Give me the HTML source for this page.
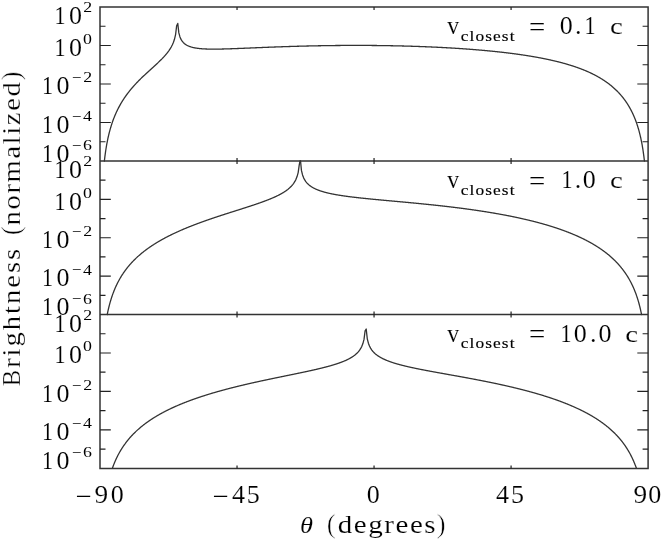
<!DOCTYPE html>
<html><head><meta charset="utf-8"><style>
html,body{margin:0;padding:0;background:#fff;width:661px;height:539px;overflow:hidden}
text{font-family:"Liberation Serif",serif;font-kerning:none}
</style></head><body>
<svg width="661" height="539" viewBox="0 0 661 539" style="position:absolute;left:0;top:0;filter:grayscale(1)">
<rect width="661" height="539" fill="#fff"/>
<path d="M104.38,161.00 L104.41,160.80 L104.68,158.41 L104.95,156.18 L105.23,154.09 L105.50,152.13 L105.77,150.27 L106.05,148.51 L106.32,146.83 L106.59,145.24 L106.87,143.72 L107.14,142.26 L107.42,140.87 L107.69,139.53 L107.96,138.24 L108.24,136.99 L108.51,135.79 L108.78,134.64 L109.06,133.52 L109.33,132.43 L109.61,131.38 L109.88,130.36 L110.15,129.38 L110.43,128.41 L110.70,127.48 L110.97,126.57 L111.25,125.68 L111.52,124.82 L111.80,123.97 L112.07,123.15 L112.34,122.35 L112.62,121.56 L112.89,120.79 L113.16,120.04 L113.44,119.30 L113.71,118.58 L113.98,117.88 L114.26,117.18 L114.53,116.51 L114.81,115.84 L115.08,115.19 L115.35,114.55 L115.63,113.92 L115.90,113.30 L116.17,112.69 L116.45,112.09 L116.72,111.50 L117.00,110.92 L117.27,110.35 L117.54,109.79 L117.82,109.24 L118.09,108.70 L118.36,108.16 L118.64,107.63 L118.91,107.11 L119.19,106.60 L119.46,106.09 L119.73,105.59 L120.01,105.10 L120.28,104.62 L120.55,104.14 L120.83,103.66 L121.10,103.19 L121.37,102.73 L121.65,102.28 L121.92,101.83 L122.20,101.38 L122.47,100.94 L122.74,100.50 L123.02,100.07 L123.29,99.65 L123.56,99.23 L123.84,98.81 L124.11,98.40 L124.39,97.99 L124.66,97.59 L124.93,97.19 L125.21,96.79 L125.48,96.40 L125.75,96.01 L126.03,95.63 L126.30,95.25 L126.57,94.87 L126.85,94.50 L127.12,94.13 L127.40,93.76 L127.67,93.40 L127.94,93.04 L128.22,92.68 L128.49,92.33 L128.76,91.97 L129.04,91.63 L129.31,91.28 L129.59,90.94 L129.86,90.60 L130.13,90.26 L130.41,89.92 L130.68,89.59 L130.95,89.26 L131.23,88.93 L131.50,88.61 L131.78,88.29 L132.05,87.96 L132.32,87.65 L132.60,87.33 L132.87,87.01 L133.14,86.70 L133.42,86.39 L133.69,86.08 L133.96,85.78 L134.24,85.47 L134.51,85.17 L134.79,84.87 L135.06,84.57 L135.33,84.27 L135.61,83.98 L135.88,83.68 L136.15,83.39 L136.43,83.10 L136.70,82.81 L136.98,82.52 L137.25,82.24 L137.52,81.95 L137.80,81.67 L138.07,81.39 L138.34,81.11 L138.62,80.83 L138.89,80.55 L139.17,80.27 L139.44,80.00 L139.71,79.72 L139.99,79.45 L140.26,79.18 L140.53,78.91 L140.81,78.64 L141.08,78.37 L141.35,78.10 L141.63,77.83 L141.90,77.57 L142.18,77.30 L142.45,77.04 L142.72,76.78 L143.00,76.51 L143.27,76.25 L143.54,75.99 L143.82,75.73 L144.09,75.47 L144.37,75.22 L144.64,74.96 L144.91,74.70 L145.19,74.45 L145.46,74.19 L145.73,73.94 L146.01,73.68 L146.28,73.43 L146.56,73.17 L146.83,72.92 L147.10,72.67 L147.38,72.42 L147.65,72.17 L147.92,71.91 L148.20,71.66 L148.47,71.41 L148.74,71.16 L149.02,70.91 L149.29,70.66 L149.57,70.42 L149.84,70.17 L150.11,69.92 L150.39,69.67 L150.66,69.42 L150.93,69.17 L151.21,68.92 L151.48,68.68 L151.76,68.43 L152.03,68.18 L152.30,67.93 L152.58,67.68 L152.85,67.43 L153.12,67.18 L153.40,66.94 L153.67,66.69 L153.94,66.44 L154.22,66.19 L154.49,65.94 L154.77,65.69 L155.04,65.44 L155.31,65.18 L155.59,64.93 L155.86,64.68 L156.13,64.43 L156.41,64.17 L156.68,63.92 L156.96,63.66 L157.23,63.41 L157.50,63.15 L157.78,62.90 L158.05,62.64 L158.32,62.38 L158.60,62.12 L158.87,61.86 L159.15,61.60 L159.42,61.33 L159.69,61.07 L159.97,60.80 L160.24,60.53 L160.51,60.26 L160.79,59.99 L161.06,59.72 L161.33,59.45 L161.61,59.17 L161.88,58.90 L162.16,58.62 L162.43,58.33 L162.70,58.05 L162.98,57.76 L163.25,57.48 L163.52,57.18 L163.80,56.89 L164.07,56.59 L164.35,56.29 L164.62,55.99 L164.89,55.69 L165.17,55.38 L165.44,55.06 L165.71,54.75 L165.99,54.42 L166.26,54.10 L166.54,53.77 L166.81,53.43 L167.08,53.09 L167.36,52.75 L167.63,52.40 L167.90,52.04 L168.18,51.67 L168.45,51.30 L168.72,50.92 L169.00,50.54 L169.27,50.14 L169.55,49.74 L169.82,49.32 L170.09,48.89 L171.19,47.06 L172.28,44.97 L173.38,42.46 L174.47,39.28 L175.57,34.71 L176.66,25.70 L177.76,23.43 L178.85,32.89 L179.95,36.89 L181.04,39.38 L182.14,41.13 L183.23,42.46 L184.33,43.50 L184.60,43.73 L184.87,43.95 L185.15,44.15 L185.42,44.35 L185.69,44.53 L185.97,44.71 L186.24,44.88 L186.52,45.05 L186.79,45.20 L187.06,45.35 L187.34,45.49 L187.61,45.63 L187.88,45.76 L188.16,45.89 L188.43,46.01 L188.70,46.13 L188.98,46.24 L189.25,46.35 L189.53,46.45 L189.80,46.55 L190.07,46.65 L190.35,46.74 L190.62,46.83 L190.89,46.92 L191.17,47.00 L191.44,47.08 L191.72,47.16 L191.99,47.24 L192.26,47.31 L192.54,47.38 L192.81,47.45 L193.08,47.51 L193.36,47.58 L193.63,47.64 L193.91,47.69 L194.18,47.75 L194.45,47.81 L194.73,47.86 L195.00,47.91 L195.27,47.96 L195.55,48.01 L195.82,48.05 L196.09,48.10 L196.37,48.14 L196.64,48.18 L196.92,48.22 L197.19,48.26 L197.46,48.30 L197.74,48.34 L198.01,48.37 L198.28,48.41 L198.56,48.44 L198.83,48.47 L199.11,48.50 L199.38,48.53 L199.65,48.56 L199.93,48.59 L200.20,48.61 L200.47,48.64 L200.75,48.66 L201.02,48.69 L201.30,48.71 L201.57,48.73 L201.84,48.76 L202.12,48.78 L202.39,48.80 L202.66,48.81 L202.94,48.83 L203.21,48.85 L203.48,48.87 L203.76,48.88 L204.03,48.90 L204.31,48.91 L204.58,48.93 L204.85,48.94 L205.13,48.95 L205.40,48.97 L205.67,48.98 L205.95,48.99 L206.22,49.00 L206.50,49.01 L206.77,49.02 L207.04,49.03 L207.32,49.04 L207.59,49.05 L207.86,49.05 L208.14,49.06 L208.41,49.07 L208.68,49.08 L208.96,49.08 L209.23,49.09 L209.51,49.09 L209.78,49.10 L210.05,49.10 L210.33,49.11 L210.60,49.11 L210.87,49.11 L211.15,49.12 L211.42,49.12 L211.70,49.12 L211.97,49.12 L212.24,49.12 L212.52,49.13 L212.79,49.13 L213.06,49.13 L213.34,49.13 L213.61,49.13 L213.89,49.13 L214.16,49.13 L214.43,49.13 L214.71,49.13 L214.98,49.13 L215.25,49.12 L215.53,49.12 L215.80,49.12 L216.07,49.12 L216.35,49.12 L216.62,49.11 L216.90,49.11 L217.17,49.11 L217.44,49.10 L217.72,49.10 L217.99,49.10 L218.26,49.09 L218.54,49.09 L218.81,49.09 L219.09,49.08 L219.36,49.08 L219.63,49.07 L219.91,49.07 L220.18,49.06 L220.45,49.06 L220.73,49.05 L221.00,49.05 L221.28,49.04 L221.55,49.03 L221.82,49.03 L222.10,49.02 L222.37,49.02 L222.64,49.01 L222.92,49.00 L223.19,49.00 L223.46,48.99 L223.74,48.98 L224.01,48.97 L224.29,48.97 L224.56,48.96 L224.83,48.95 L225.11,48.95 L225.38,48.94 L225.65,48.93 L225.93,48.92 L226.20,48.91 L226.48,48.91 L226.75,48.90 L227.02,48.89 L227.30,48.88 L227.57,48.87 L227.84,48.86 L228.12,48.86 L228.39,48.85 L228.67,48.84 L228.94,48.83 L229.21,48.82 L229.49,48.81 L229.76,48.80 L230.03,48.79 L230.31,48.78 L230.58,48.77 L230.85,48.76 L231.13,48.75 L231.40,48.75 L231.68,48.74 L231.95,48.73 L232.22,48.72 L232.50,48.71 L232.77,48.70 L233.04,48.69 L233.32,48.68 L233.59,48.67 L233.87,48.66 L234.14,48.65 L234.41,48.64 L234.69,48.63 L234.96,48.62 L235.23,48.60 L235.51,48.59 L235.78,48.58 L236.05,48.57 L236.33,48.56 L236.60,48.55 L236.88,48.54 L237.15,48.53 L237.42,48.52 L237.70,48.51 L237.97,48.50 L238.24,48.49 L238.52,48.48 L238.79,48.47 L239.07,48.46 L239.34,48.44 L239.61,48.43 L239.89,48.42 L240.16,48.41 L240.43,48.40 L240.71,48.39 L240.98,48.38 L241.26,48.37 L241.53,48.36 L241.80,48.35 L242.08,48.33 L242.35,48.32 L242.62,48.31 L242.90,48.30 L243.17,48.29 L243.44,48.28 L243.72,48.27 L243.99,48.26 L244.27,48.24 L244.54,48.23 L244.81,48.22 L245.09,48.21 L245.36,48.20 L245.63,48.19 L245.91,48.18 L246.18,48.16 L246.46,48.15 L246.73,48.14 L247.00,48.13 L247.28,48.12 L247.55,48.11 L247.82,48.10 L248.10,48.08 L248.37,48.07 L248.65,48.06 L248.92,48.05 L249.19,48.04 L249.47,48.03 L249.74,48.02 L250.01,48.00 L250.29,47.99 L250.56,47.98 L250.83,47.97 L251.11,47.96 L251.38,47.95 L251.66,47.94 L251.93,47.92 L252.20,47.91 L252.48,47.90 L252.75,47.89 L253.02,47.88 L253.30,47.87 L253.57,47.85 L253.85,47.84 L254.12,47.83 L254.39,47.82 L254.67,47.81 L254.94,47.80 L255.21,47.79 L255.49,47.77 L255.76,47.76 L256.04,47.75 L256.31,47.74 L256.58,47.73 L256.86,47.72 L257.13,47.71 L257.40,47.70 L257.68,47.68 L257.95,47.67 L258.22,47.66 L258.50,47.65 L258.77,47.64 L259.05,47.63 L259.32,47.62 L259.59,47.60 L259.87,47.59 L260.14,47.58 L260.41,47.57 L260.69,47.56 L260.96,47.55 L261.24,47.54 L261.51,47.53 L261.78,47.52 L262.06,47.50 L262.33,47.49 L262.60,47.48 L262.88,47.47 L263.15,47.46 L263.42,47.45 L263.70,47.44 L263.97,47.43 L264.25,47.42 L264.52,47.40 L264.79,47.39 L265.07,47.38 L265.34,47.37 L265.61,47.36 L265.89,47.35 L266.16,47.34 L266.44,47.33 L266.71,47.32 L266.98,47.31 L267.26,47.30 L267.53,47.28 L267.80,47.27 L268.08,47.26 L268.35,47.25 L268.63,47.24 L268.90,47.23 L269.17,47.22 L269.45,47.21 L269.72,47.20 L269.99,47.19 L270.27,47.18 L270.54,47.17 L270.81,47.16 L271.09,47.15 L271.36,47.14 L271.64,47.13 L271.91,47.12 L272.18,47.11 L272.46,47.09 L272.73,47.08 L273.00,47.07 L273.28,47.06 L273.55,47.05 L273.83,47.04 L274.10,47.03 L274.37,47.02 L274.65,47.01 L274.92,47.00 L275.19,46.99 L275.47,46.98 L275.74,46.97 L276.02,46.96 L276.29,46.95 L276.56,46.94 L276.84,46.93 L277.11,46.92 L277.38,46.91 L277.66,46.90 L277.93,46.89 L278.20,46.88 L278.48,46.87 L278.75,46.86 L279.03,46.85 L279.30,46.84 L279.57,46.83 L279.85,46.82 L280.12,46.81 L280.39,46.80 L280.67,46.80 L280.94,46.79 L281.22,46.78 L281.49,46.77 L281.76,46.76 L282.04,46.75 L282.31,46.74 L282.58,46.73 L282.86,46.72 L283.13,46.71 L283.41,46.70 L283.68,46.69 L283.95,46.68 L284.23,46.67 L284.50,46.66 L284.77,46.65 L285.05,46.65 L285.32,46.64 L285.59,46.63 L285.87,46.62 L286.14,46.61 L286.42,46.60 L286.69,46.59 L286.96,46.58 L287.24,46.57 L287.51,46.56 L287.78,46.56 L288.06,46.55 L288.33,46.54 L288.61,46.53 L288.88,46.52 L289.15,46.51 L289.43,46.50 L289.70,46.49 L289.97,46.49 L290.25,46.48 L290.52,46.47 L290.79,46.46 L291.07,46.45 L291.34,46.44 L291.62,46.43 L291.89,46.43 L292.16,46.42 L292.44,46.41 L292.71,46.40 L292.98,46.39 L293.26,46.38 L293.53,46.38 L293.81,46.37 L294.08,46.36 L294.35,46.35 L294.63,46.34 L294.90,46.34 L295.17,46.33 L295.45,46.32 L295.72,46.31 L296.00,46.30 L296.27,46.30 L296.54,46.29 L296.82,46.28 L297.09,46.27 L297.36,46.27 L297.64,46.26 L297.91,46.25 L298.18,46.24 L298.46,46.23 L298.73,46.23 L299.01,46.22 L299.28,46.21 L299.55,46.20 L299.83,46.20 L300.10,46.19 L300.37,46.18 L300.65,46.17 L300.92,46.17 L301.20,46.16 L301.47,46.15 L301.74,46.15 L302.02,46.14 L302.29,46.13 L302.56,46.12 L302.84,46.12 L303.11,46.11 L303.39,46.10 L303.66,46.10 L303.93,46.09 L304.21,46.08 L304.48,46.08 L304.75,46.07 L305.03,46.06 L305.30,46.05 L305.57,46.05 L305.85,46.04 L306.12,46.03 L306.40,46.03 L306.67,46.02 L306.94,46.01 L307.22,46.01 L307.49,46.00 L307.76,46.00 L308.04,45.99 L308.31,45.98 L308.59,45.98 L308.86,45.97 L309.13,45.96 L309.41,45.96 L309.68,45.95 L309.95,45.94 L310.23,45.94 L310.50,45.93 L310.78,45.93 L311.05,45.92 L311.32,45.91 L311.60,45.91 L311.87,45.90 L312.14,45.90 L312.42,45.89 L312.69,45.88 L312.96,45.88 L313.24,45.87 L313.51,45.87 L313.79,45.86 L314.06,45.86 L314.33,45.85 L314.61,45.84 L314.88,45.84 L315.15,45.83 L315.43,45.83 L315.70,45.82 L315.98,45.82 L316.25,45.81 L316.52,45.81 L316.80,45.80 L317.07,45.80 L317.34,45.79 L317.62,45.79 L317.89,45.78 L318.16,45.77 L318.44,45.77 L318.71,45.76 L318.99,45.76 L319.26,45.75 L319.53,45.75 L319.81,45.74 L320.08,45.74 L320.35,45.73 L320.63,45.73 L320.90,45.73 L321.18,45.72 L321.45,45.72 L321.72,45.71 L322.00,45.71 L322.27,45.70 L322.54,45.70 L322.82,45.69 L323.09,45.69 L323.37,45.68 L323.64,45.68 L323.91,45.67 L324.19,45.67 L324.46,45.67 L324.73,45.66 L325.01,45.66 L325.28,45.65 L325.55,45.65 L325.83,45.65 L326.10,45.64 L326.38,45.64 L326.65,45.63 L326.92,45.63 L327.20,45.62 L327.47,45.62 L327.74,45.62 L328.02,45.61 L328.29,45.61 L328.57,45.61 L328.84,45.60 L329.11,45.60 L329.39,45.59 L329.66,45.59 L329.93,45.59 L330.21,45.58 L330.48,45.58 L330.76,45.58 L331.03,45.57 L331.30,45.57 L331.58,45.57 L331.85,45.56 L332.12,45.56 L332.40,45.56 L332.67,45.55 L332.94,45.55 L333.22,45.55 L333.49,45.54 L333.77,45.54 L334.04,45.54 L334.31,45.53 L334.59,45.53 L334.86,45.53 L335.13,45.53 L335.41,45.52 L335.68,45.52 L335.96,45.52 L336.23,45.51 L336.50,45.51 L336.78,45.51 L337.05,45.51 L337.32,45.50 L337.60,45.50 L337.87,45.50 L338.15,45.50 L338.42,45.49 L338.69,45.49 L338.97,45.49 L339.24,45.49 L339.51,45.48 L339.79,45.48 L340.06,45.48 L340.33,45.48 L340.61,45.47 L340.88,45.47 L341.16,45.47 L341.43,45.47 L341.70,45.47 L341.98,45.46 L342.25,45.46 L342.52,45.46 L342.80,45.46 L343.07,45.46 L343.35,45.46 L343.62,45.45 L343.89,45.45 L344.17,45.45 L344.44,45.45 L344.71,45.45 L344.99,45.45 L345.26,45.44 L345.53,45.44 L345.81,45.44 L346.08,45.44 L346.36,45.44 L346.63,45.44 L346.90,45.44 L347.18,45.43 L347.45,45.43 L347.72,45.43 L348.00,45.43 L348.27,45.43 L348.55,45.43 L348.82,45.43 L349.09,45.43 L349.37,45.43 L349.64,45.42 L349.91,45.42 L350.19,45.42 L350.46,45.42 L350.74,45.42 L351.01,45.42 L351.28,45.42 L351.56,45.42 L351.83,45.42 L352.10,45.42 L352.38,45.42 L352.65,45.42 L352.92,45.42 L353.20,45.42 L353.47,45.42 L353.75,45.41 L354.02,45.41 L354.29,45.41 L354.57,45.41 L354.84,45.41 L355.11,45.41 L355.39,45.41 L355.66,45.41 L355.94,45.41 L356.21,45.41 L356.48,45.41 L356.76,45.41 L357.03,45.41 L357.30,45.41 L357.58,45.41 L357.85,45.41 L358.13,45.41 L358.40,45.41 L358.67,45.41 L358.95,45.42 L359.22,45.42 L359.49,45.42 L359.77,45.42 L360.04,45.42 L360.31,45.42 L360.59,45.42 L360.86,45.42 L361.14,45.42 L361.41,45.42 L361.68,45.42 L361.96,45.42 L362.23,45.42 L362.50,45.42 L362.78,45.42 L363.05,45.43 L363.33,45.43 L363.60,45.43 L363.87,45.43 L364.15,45.43 L364.42,45.43 L364.69,45.43 L364.97,45.43 L365.24,45.43 L365.52,45.44 L365.79,45.44 L366.06,45.44 L366.34,45.44 L366.61,45.44 L366.88,45.44 L367.16,45.44 L367.43,45.45 L367.70,45.45 L367.98,45.45 L368.25,45.45 L368.53,45.45 L368.80,45.45 L369.07,45.46 L369.35,45.46 L369.62,45.46 L369.89,45.46 L370.17,45.46 L370.44,45.47 L370.72,45.47 L370.99,45.47 L371.26,45.47 L371.54,45.47 L371.81,45.48 L372.08,45.48 L372.36,45.48 L372.63,45.48 L372.90,45.49 L373.18,45.49 L373.45,45.49 L373.73,45.49 L374.00,45.50 L374.27,45.50 L374.55,45.50 L374.82,45.50 L375.09,45.51 L375.37,45.51 L375.64,45.51 L375.92,45.52 L376.19,45.52 L376.46,45.52 L376.74,45.52 L377.01,45.53 L377.28,45.53 L377.56,45.53 L377.83,45.54 L378.11,45.54 L378.38,45.54 L378.65,45.55 L378.93,45.55 L379.20,45.55 L379.47,45.56 L379.75,45.56 L380.02,45.56 L380.29,45.57 L380.57,45.57 L380.84,45.57 L381.12,45.58 L381.39,45.58 L381.66,45.58 L381.94,45.59 L382.21,45.59 L382.48,45.60 L382.76,45.60 L383.03,45.60 L383.31,45.61 L383.58,45.61 L383.85,45.62 L384.13,45.62 L384.40,45.62 L384.67,45.63 L384.95,45.63 L385.22,45.64 L385.50,45.64 L385.77,45.64 L386.04,45.65 L386.32,45.65 L386.59,45.66 L386.86,45.66 L387.14,45.67 L387.41,45.67 L387.68,45.68 L387.96,45.68 L388.23,45.69 L388.51,45.69 L388.78,45.69 L389.05,45.70 L389.33,45.70 L389.60,45.71 L389.87,45.71 L390.15,45.72 L390.42,45.72 L390.70,45.73 L390.97,45.73 L391.24,45.74 L391.52,45.74 L391.79,45.75 L392.06,45.76 L392.34,45.76 L392.61,45.77 L392.89,45.77 L393.16,45.78 L393.43,45.78 L393.71,45.79 L393.98,45.79 L394.25,45.80 L394.53,45.80 L394.80,45.81 L395.07,45.82 L395.35,45.82 L395.62,45.83 L395.90,45.83 L396.17,45.84 L396.44,45.85 L396.72,45.85 L396.99,45.86 L397.26,45.86 L397.54,45.87 L397.81,45.88 L398.09,45.88 L398.36,45.89 L398.63,45.90 L398.91,45.90 L399.18,45.91 L399.45,45.91 L399.73,45.92 L400.00,45.93 L400.27,45.93 L400.55,45.94 L400.82,45.95 L401.10,45.95 L401.37,45.96 L401.64,45.97 L401.92,45.97 L402.19,45.98 L402.46,45.99 L402.74,46.00 L403.01,46.00 L403.29,46.01 L403.56,46.02 L403.83,46.02 L404.11,46.03 L404.38,46.04 L404.65,46.05 L404.93,46.05 L405.20,46.06 L405.48,46.07 L405.75,46.08 L406.02,46.08 L406.30,46.09 L406.57,46.10 L406.84,46.11 L407.12,46.11 L407.39,46.12 L407.66,46.13 L407.94,46.14 L408.21,46.15 L408.49,46.15 L408.76,46.16 L409.03,46.17 L409.31,46.18 L409.58,46.19 L409.85,46.19 L410.13,46.20 L410.40,46.21 L410.68,46.22 L410.95,46.23 L411.22,46.24 L411.50,46.24 L411.77,46.25 L412.04,46.26 L412.32,46.27 L412.59,46.28 L412.87,46.29 L413.14,46.30 L413.41,46.30 L413.69,46.31 L413.96,46.32 L414.23,46.33 L414.51,46.34 L414.78,46.35 L415.05,46.36 L415.33,46.37 L415.60,46.38 L415.88,46.39 L416.15,46.39 L416.42,46.40 L416.70,46.41 L416.97,46.42 L417.24,46.43 L417.52,46.44 L417.79,46.45 L418.07,46.46 L418.34,46.47 L418.61,46.48 L418.89,46.49 L419.16,46.50 L419.43,46.51 L419.71,46.52 L419.98,46.53 L420.26,46.54 L420.53,46.55 L420.80,46.56 L421.08,46.57 L421.35,46.58 L421.62,46.59 L421.90,46.60 L422.17,46.61 L422.44,46.62 L422.72,46.63 L422.99,46.64 L423.27,46.65 L423.54,46.66 L423.81,46.67 L424.09,46.69 L424.36,46.70 L424.63,46.71 L424.91,46.72 L425.18,46.73 L425.46,46.74 L425.73,46.75 L426.00,46.76 L426.28,46.77 L426.55,46.78 L426.82,46.79 L427.10,46.81 L427.37,46.82 L427.64,46.83 L427.92,46.84 L428.19,46.85 L428.47,46.86 L428.74,46.87 L429.01,46.89 L429.29,46.90 L429.56,46.91 L429.83,46.92 L430.11,46.93 L430.38,46.95 L430.66,46.96 L430.93,46.97 L431.20,46.98 L431.48,46.99 L431.75,47.01 L432.02,47.02 L432.30,47.03 L432.57,47.04 L432.85,47.05 L433.12,47.07 L433.39,47.08 L433.67,47.09 L433.94,47.10 L434.21,47.12 L434.49,47.13 L434.76,47.14 L435.03,47.16 L435.31,47.17 L435.58,47.18 L435.86,47.19 L436.13,47.21 L436.40,47.22 L436.68,47.23 L436.95,47.25 L437.22,47.26 L437.50,47.27 L437.77,47.29 L438.05,47.30 L438.32,47.31 L438.59,47.33 L438.87,47.34 L439.14,47.35 L439.41,47.37 L439.69,47.38 L439.96,47.39 L440.24,47.41 L440.51,47.42 L440.78,47.44 L441.06,47.45 L441.33,47.46 L441.60,47.48 L441.88,47.49 L442.15,47.51 L442.42,47.52 L442.70,47.54 L442.97,47.55 L443.25,47.56 L443.52,47.58 L443.79,47.59 L444.07,47.61 L444.34,47.62 L444.61,47.64 L444.89,47.65 L445.16,47.67 L445.44,47.68 L445.71,47.70 L445.98,47.71 L446.26,47.73 L446.53,47.74 L446.80,47.76 L447.08,47.77 L447.35,47.79 L447.63,47.80 L447.90,47.82 L448.17,47.83 L448.45,47.85 L448.72,47.86 L448.99,47.88 L449.27,47.90 L449.54,47.91 L449.81,47.93 L450.09,47.94 L450.36,47.96 L450.64,47.98 L450.91,47.99 L451.18,48.01 L451.46,48.02 L451.73,48.04 L452.00,48.06 L452.28,48.07 L452.55,48.09 L452.83,48.11 L453.10,48.12 L453.37,48.14 L453.65,48.16 L453.92,48.17 L454.19,48.19 L454.47,48.21 L454.74,48.22 L455.01,48.24 L455.29,48.26 L455.56,48.28 L455.84,48.29 L456.11,48.31 L456.38,48.33 L456.66,48.34 L456.93,48.36 L457.20,48.38 L457.48,48.40 L457.75,48.41 L458.03,48.43 L458.30,48.45 L458.57,48.47 L458.85,48.49 L459.12,48.50 L459.39,48.52 L459.67,48.54 L459.94,48.56 L460.22,48.58 L460.49,48.59 L460.76,48.61 L461.04,48.63 L461.31,48.65 L461.58,48.67 L461.86,48.69 L462.13,48.71 L462.40,48.72 L462.68,48.74 L462.95,48.76 L463.23,48.78 L463.50,48.80 L463.77,48.82 L464.05,48.84 L464.32,48.86 L464.59,48.88 L464.87,48.90 L465.14,48.92 L465.42,48.94 L465.69,48.96 L465.96,48.98 L466.24,48.99 L466.51,49.01 L466.78,49.03 L467.06,49.05 L467.33,49.07 L467.61,49.09 L467.88,49.11 L468.15,49.14 L468.43,49.16 L468.70,49.18 L468.97,49.20 L469.25,49.22 L469.52,49.24 L469.79,49.26 L470.07,49.28 L470.34,49.30 L470.62,49.32 L470.89,49.34 L471.16,49.36 L471.44,49.38 L471.71,49.40 L471.98,49.43 L472.26,49.45 L472.53,49.47 L472.81,49.49 L473.08,49.51 L473.35,49.53 L473.63,49.56 L473.90,49.58 L474.17,49.60 L474.45,49.62 L474.72,49.64 L475.00,49.66 L475.27,49.69 L475.54,49.71 L475.82,49.73 L476.09,49.75 L476.36,49.78 L476.64,49.80 L476.91,49.82 L477.18,49.84 L477.46,49.87 L477.73,49.89 L478.01,49.91 L478.28,49.94 L478.55,49.96 L478.83,49.98 L479.10,50.01 L479.37,50.03 L479.65,50.05 L479.92,50.08 L480.20,50.10 L480.47,50.12 L480.74,50.15 L481.02,50.17 L481.29,50.19 L481.56,50.22 L481.84,50.24 L482.11,50.27 L482.38,50.29 L482.66,50.32 L482.93,50.34 L483.21,50.36 L483.48,50.39 L483.75,50.41 L484.03,50.44 L484.30,50.46 L484.57,50.49 L484.85,50.51 L485.12,50.54 L485.40,50.56 L485.67,50.59 L485.94,50.61 L486.22,50.64 L486.49,50.66 L486.76,50.69 L487.04,50.72 L487.31,50.74 L487.59,50.77 L487.86,50.79 L488.13,50.82 L488.41,50.85 L488.68,50.87 L488.95,50.90 L489.23,50.92 L489.50,50.95 L489.77,50.98 L490.05,51.00 L490.32,51.03 L490.60,51.06 L490.87,51.08 L491.14,51.11 L491.42,51.14 L491.69,51.17 L491.96,51.19 L492.24,51.22 L492.51,51.25 L492.79,51.28 L493.06,51.30 L493.33,51.33 L493.61,51.36 L493.88,51.39 L494.15,51.42 L494.43,51.44 L494.70,51.47 L494.98,51.50 L495.25,51.53 L495.52,51.56 L495.80,51.59 L496.07,51.61 L496.34,51.64 L496.62,51.67 L496.89,51.70 L497.16,51.73 L497.44,51.76 L497.71,51.79 L497.99,51.82 L498.26,51.85 L498.53,51.88 L498.81,51.91 L499.08,51.94 L499.35,51.97 L499.63,52.00 L499.90,52.03 L500.18,52.06 L500.45,52.09 L500.72,52.12 L501.00,52.15 L501.27,52.18 L501.54,52.21 L501.82,52.24 L502.09,52.27 L502.37,52.30 L502.64,52.34 L502.91,52.37 L503.19,52.40 L503.46,52.43 L503.73,52.46 L504.01,52.49 L504.28,52.53 L504.55,52.56 L504.83,52.59 L505.10,52.62 L505.38,52.65 L505.65,52.69 L505.92,52.72 L506.20,52.75 L506.47,52.79 L506.74,52.82 L507.02,52.85 L507.29,52.88 L507.57,52.92 L507.84,52.95 L508.11,52.98 L508.39,53.02 L508.66,53.05 L508.93,53.09 L509.21,53.12 L509.48,53.15 L509.75,53.19 L510.03,53.22 L510.30,53.26 L510.58,53.29 L510.85,53.33 L511.12,53.36 L511.40,53.40 L511.67,53.43 L511.94,53.47 L512.22,53.50 L512.49,53.54 L512.77,53.57 L513.04,53.61 L513.31,53.64 L513.59,53.68 L513.86,53.72 L514.13,53.75 L514.41,53.79 L514.68,53.83 L514.96,53.86 L515.23,53.90 L515.50,53.94 L515.78,53.97 L516.05,54.01 L516.32,54.05 L516.60,54.08 L516.87,54.12 L517.14,54.16 L517.42,54.20 L517.69,54.24 L517.97,54.27 L518.24,54.31 L518.51,54.35 L518.79,54.39 L519.06,54.43 L519.33,54.47 L519.61,54.50 L519.88,54.54 L520.16,54.58 L520.43,54.62 L520.70,54.66 L520.98,54.70 L521.25,54.74 L521.52,54.78 L521.80,54.82 L522.07,54.86 L522.35,54.90 L522.62,54.94 L522.89,54.98 L523.17,55.02 L523.44,55.06 L523.71,55.11 L523.99,55.15 L524.26,55.19 L524.53,55.23 L524.81,55.27 L525.08,55.31 L525.36,55.36 L525.63,55.40 L525.90,55.44 L526.18,55.48 L526.45,55.53 L526.72,55.57 L527.00,55.61 L527.27,55.65 L527.55,55.70 L527.82,55.74 L528.09,55.78 L528.37,55.83 L528.64,55.87 L528.91,55.92 L529.19,55.96 L529.46,56.01 L529.74,56.05 L530.01,56.09 L530.28,56.14 L530.56,56.19 L530.83,56.23 L531.10,56.28 L531.38,56.32 L531.65,56.37 L531.92,56.41 L532.20,56.46 L532.47,56.51 L532.75,56.55 L533.02,56.60 L533.29,56.65 L533.57,56.69 L533.84,56.74 L534.11,56.79 L534.39,56.84 L534.66,56.88 L534.94,56.93 L535.21,56.98 L535.48,57.03 L535.76,57.08 L536.03,57.13 L536.30,57.17 L536.58,57.22 L536.85,57.27 L537.12,57.32 L537.40,57.37 L537.67,57.42 L537.95,57.47 L538.22,57.52 L538.49,57.57 L538.77,57.62 L539.04,57.67 L539.31,57.73 L539.59,57.78 L539.86,57.83 L540.14,57.88 L540.41,57.93 L540.68,57.98 L540.96,58.04 L541.23,58.09 L541.50,58.14 L541.78,58.20 L542.05,58.25 L542.33,58.30 L542.60,58.36 L542.87,58.41 L543.15,58.46 L543.42,58.52 L543.69,58.57 L543.97,58.63 L544.24,58.68 L544.51,58.74 L544.79,58.79 L545.06,58.85 L545.34,58.90 L545.61,58.96 L545.88,59.02 L546.16,59.07 L546.43,59.13 L546.70,59.19 L546.98,59.25 L547.25,59.30 L547.53,59.36 L547.80,59.42 L548.07,59.48 L548.35,59.54 L548.62,59.59 L548.89,59.65 L549.17,59.71 L549.44,59.77 L549.72,59.83 L549.99,59.89 L550.26,59.95 L550.54,60.01 L550.81,60.07 L551.08,60.13 L551.36,60.20 L551.63,60.26 L551.90,60.32 L552.18,60.38 L552.45,60.44 L552.73,60.51 L553.00,60.57 L553.27,60.63 L553.55,60.70 L553.82,60.76 L554.09,60.82 L554.37,60.89 L554.64,60.95 L554.92,61.02 L555.19,61.08 L555.46,61.15 L555.74,61.22 L556.01,61.28 L556.28,61.35 L556.56,61.41 L556.83,61.48 L557.11,61.55 L557.38,61.62 L557.65,61.68 L557.93,61.75 L558.20,61.82 L558.47,61.89 L558.75,61.96 L559.02,62.03 L559.29,62.10 L559.57,62.17 L559.84,62.24 L560.12,62.31 L560.39,62.38 L560.66,62.45 L560.94,62.52 L561.21,62.60 L561.48,62.67 L561.76,62.74 L562.03,62.82 L562.31,62.89 L562.58,62.96 L562.85,63.04 L563.13,63.11 L563.40,63.19 L563.67,63.26 L563.95,63.34 L564.22,63.41 L564.49,63.49 L564.77,63.57 L565.04,63.64 L565.32,63.72 L565.59,63.80 L565.86,63.88 L566.14,63.95 L566.41,64.03 L566.68,64.11 L566.96,64.19 L567.23,64.27 L567.51,64.35 L567.78,64.43 L568.05,64.52 L568.33,64.60 L568.60,64.68 L568.87,64.76 L569.15,64.84 L569.42,64.93 L569.70,65.01 L569.97,65.10 L570.24,65.18 L570.52,65.27 L570.79,65.35 L571.06,65.44 L571.34,65.52 L571.61,65.61 L571.88,65.70 L572.16,65.79 L572.43,65.87 L572.71,65.96 L572.98,66.05 L573.25,66.14 L573.53,66.23 L573.80,66.32 L574.07,66.41 L574.35,66.50 L574.62,66.60 L574.90,66.69 L575.17,66.78 L575.44,66.87 L575.72,66.97 L575.99,67.06 L576.26,67.16 L576.54,67.25 L576.81,67.35 L577.09,67.44 L577.36,67.54 L577.63,67.64 L577.91,67.74 L578.18,67.84 L578.45,67.93 L578.73,68.03 L579.00,68.13 L579.27,68.24 L579.55,68.34 L579.82,68.44 L580.10,68.54 L580.37,68.64 L580.64,68.75 L580.92,68.85 L581.19,68.96 L581.46,69.06 L581.74,69.17 L582.01,69.27 L582.29,69.38 L582.56,69.49 L582.83,69.60 L583.11,69.71 L583.38,69.82 L583.65,69.93 L583.93,70.04 L584.20,70.15 L584.48,70.26 L584.75,70.37 L585.02,70.49 L585.30,70.60 L585.57,70.72 L585.84,70.83 L586.12,70.95 L586.39,71.06 L586.66,71.18 L586.94,71.30 L587.21,71.42 L587.49,71.54 L587.76,71.66 L588.03,71.78 L588.31,71.90 L588.58,72.03 L588.85,72.15 L589.13,72.27 L589.40,72.40 L589.68,72.52 L589.95,72.65 L590.22,72.78 L590.50,72.91 L590.77,73.04 L591.04,73.17 L591.32,73.30 L591.59,73.43 L591.86,73.56 L592.14,73.69 L592.41,73.83 L592.69,73.96 L592.96,74.10 L593.23,74.23 L593.51,74.37 L593.78,74.51 L594.05,74.65 L594.33,74.79 L594.60,74.93 L594.88,75.07 L595.15,75.22 L595.42,75.36 L595.70,75.51 L595.97,75.65 L596.24,75.80 L596.52,75.95 L596.79,76.10 L597.07,76.25 L597.34,76.40 L597.61,76.55 L597.89,76.70 L598.16,76.86 L598.43,77.01 L598.71,77.17 L598.98,77.32 L599.25,77.48 L599.53,77.64 L599.80,77.80 L600.08,77.97 L600.35,78.13 L600.62,78.29 L600.90,78.46 L601.17,78.63 L601.44,78.79 L601.72,78.96 L601.99,79.13 L602.27,79.31 L602.54,79.48 L602.81,79.65 L603.09,79.83 L603.36,80.01 L603.63,80.18 L603.91,80.36 L604.18,80.54 L604.46,80.73 L604.73,80.91 L605.00,81.10 L605.28,81.28 L605.55,81.47 L605.82,81.66 L606.10,81.85 L606.37,82.04 L606.64,82.24 L606.92,82.43 L607.19,82.63 L607.47,82.83 L607.74,83.03 L608.01,83.23 L608.29,83.44 L608.56,83.64 L608.83,83.85 L609.11,84.06 L609.38,84.27 L609.66,84.48 L609.93,84.70 L610.20,84.91 L610.48,85.13 L610.75,85.35 L611.02,85.57 L611.30,85.80 L611.57,86.02 L611.85,86.25 L612.12,86.48 L612.39,86.71 L612.67,86.95 L612.94,87.18 L613.21,87.42 L613.49,87.66 L613.76,87.90 L614.03,88.15 L614.31,88.40 L614.58,88.65 L614.86,88.90 L615.13,89.15 L615.40,89.41 L615.68,89.67 L615.95,89.93 L616.22,90.19 L616.50,90.46 L616.77,90.73 L617.05,91.00 L617.32,91.28 L617.59,91.55 L617.87,91.84 L618.14,92.12 L618.41,92.41 L618.69,92.69 L618.96,92.99 L619.23,93.28 L619.51,93.58 L619.78,93.88 L620.06,94.19 L620.33,94.50 L620.60,94.81 L620.88,95.12 L621.15,95.44 L621.42,95.77 L621.70,96.09 L621.97,96.42 L622.25,96.76 L622.52,97.09 L622.79,97.43 L623.07,97.78 L623.34,98.13 L623.61,98.48 L623.89,98.84 L624.16,99.21 L624.44,99.57 L624.71,99.95 L624.98,100.32 L625.26,100.70 L625.53,101.09 L625.80,101.48 L626.08,101.88 L626.35,102.28 L626.62,102.69 L626.90,103.10 L627.17,103.52 L627.45,103.95 L627.72,104.38 L627.99,104.82 L628.27,105.26 L628.54,105.71 L628.81,106.17 L629.09,106.63 L629.36,107.10 L629.64,107.58 L629.91,108.06 L630.18,108.56 L630.46,109.06 L630.73,109.57 L631.00,110.09 L631.28,110.62 L631.55,111.15 L631.83,111.70 L632.10,112.25 L632.37,112.82 L632.65,113.39 L632.92,113.98 L633.19,114.58 L633.47,115.18 L633.74,115.80 L634.01,116.44 L634.29,117.08 L634.56,117.74 L634.84,118.41 L635.11,119.10 L635.38,119.80 L635.66,120.52 L635.93,121.26 L636.20,122.01 L636.48,122.78 L636.75,123.57 L637.03,124.37 L637.30,125.20 L637.57,126.05 L637.85,126.93 L638.12,127.82 L638.39,128.74 L638.67,129.69 L638.94,130.67 L639.22,131.68 L639.49,132.72 L639.76,133.79 L640.04,134.90 L640.31,136.05 L640.58,137.24 L640.86,138.48 L641.13,139.76 L641.40,141.09 L641.68,142.48 L641.95,143.94 L642.23,145.45 L642.50,147.04 L642.77,148.72 L643.05,150.48 L643.32,152.33 L643.59,154.30 L643.87,156.39 L644.14,158.63 L644.41,161.00" fill="none" stroke="#333" stroke-width="1.3" stroke-linejoin="round" stroke-linecap="round"/>
<path d="M107.25,314.50 L107.39,313.80 L107.66,312.46 L107.94,311.18 L108.21,309.94 L108.49,308.75 L108.76,307.59 L109.03,306.48 L109.31,305.40 L109.58,304.36 L109.85,303.35 L110.13,302.36 L110.40,301.41 L110.68,300.48 L110.95,299.58 L111.22,298.70 L111.50,297.84 L111.77,297.01 L112.04,296.19 L112.32,295.40 L112.59,294.62 L112.87,293.86 L113.14,293.12 L113.41,292.40 L113.69,291.68 L113.96,290.99 L114.23,290.31 L114.51,289.64 L114.78,288.98 L115.05,288.34 L115.33,287.71 L115.60,287.09 L115.88,286.49 L116.15,285.89 L116.42,285.30 L116.70,284.73 L116.97,284.16 L117.24,283.60 L117.52,283.06 L117.79,282.52 L118.07,281.99 L118.34,281.46 L118.61,280.95 L118.89,280.44 L119.16,279.94 L119.43,279.45 L119.71,278.97 L119.98,278.49 L120.25,278.02 L120.53,277.56 L120.80,277.10 L121.08,276.65 L121.35,276.20 L121.62,275.76 L121.90,275.33 L122.17,274.90 L122.44,274.47 L122.72,274.06 L122.99,273.64 L123.27,273.24 L123.54,272.83 L123.81,272.43 L124.09,272.04 L124.36,271.65 L124.63,271.27 L124.91,270.89 L125.18,270.51 L125.46,270.14 L125.73,269.77 L126.00,269.41 L126.28,269.05 L126.55,268.69 L126.82,268.34 L127.10,267.99 L127.37,267.64 L127.64,267.30 L127.92,266.96 L128.19,266.63 L128.47,266.30 L128.74,265.97 L129.01,265.64 L129.29,265.32 L129.56,265.00 L129.83,264.69 L130.11,264.37 L130.38,264.06 L130.66,263.76 L130.93,263.45 L131.20,263.15 L131.48,262.85 L131.75,262.55 L132.02,262.26 L132.30,261.97 L132.57,261.68 L132.85,261.39 L133.12,261.11 L133.39,260.83 L133.67,260.55 L133.94,260.27 L134.21,259.99 L134.49,259.72 L134.76,259.45 L135.03,259.18 L135.31,258.91 L135.58,258.65 L135.86,258.39 L136.13,258.13 L136.40,257.87 L136.68,257.61 L136.95,257.36 L137.22,257.10 L137.50,256.85 L137.77,256.61 L138.05,256.36 L138.32,256.11 L138.59,255.87 L138.87,255.63 L139.14,255.39 L139.41,255.15 L139.69,254.91 L139.96,254.68 L140.24,254.44 L140.51,254.21 L140.78,253.98 L141.06,253.75 L141.33,253.52 L141.60,253.30 L141.88,253.07 L142.15,252.85 L142.42,252.63 L142.70,252.41 L142.97,252.19 L143.25,251.97 L143.52,251.75 L143.79,251.54 L144.07,251.33 L144.34,251.11 L144.61,250.90 L144.89,250.69 L145.16,250.49 L145.44,250.28 L145.71,250.07 L145.98,249.87 L146.26,249.67 L146.53,249.46 L146.80,249.26 L147.08,249.06 L147.35,248.86 L147.62,248.67 L147.90,248.47 L148.17,248.27 L148.45,248.08 L148.72,247.89 L148.99,247.69 L149.27,247.50 L149.54,247.31 L149.81,247.12 L150.09,246.94 L150.36,246.75 L150.64,246.56 L150.91,246.38 L151.18,246.19 L151.46,246.01 L151.73,245.83 L152.00,245.65 L152.28,245.47 L152.55,245.29 L152.83,245.11 L153.10,244.93 L153.37,244.75 L153.65,244.58 L153.92,244.40 L154.19,244.23 L154.47,244.06 L154.74,243.88 L155.01,243.71 L155.29,243.54 L155.56,243.37 L155.84,243.20 L156.11,243.03 L156.38,242.87 L156.66,242.70 L156.93,242.53 L157.20,242.37 L157.48,242.20 L157.75,242.04 L158.03,241.88 L158.30,241.72 L158.57,241.55 L158.85,241.39 L159.12,241.23 L159.39,241.07 L159.67,240.92 L159.94,240.76 L160.22,240.60 L160.49,240.44 L160.76,240.29 L161.04,240.13 L161.31,239.98 L161.58,239.82 L161.86,239.67 L162.13,239.52 L162.40,239.37 L162.68,239.22 L162.95,239.06 L163.23,238.91 L163.50,238.76 L163.77,238.62 L164.05,238.47 L164.32,238.32 L164.59,238.17 L164.87,238.03 L165.14,237.88 L165.42,237.74 L165.69,237.59 L165.96,237.45 L166.24,237.30 L166.51,237.16 L166.78,237.02 L167.06,236.88 L167.33,236.73 L167.61,236.59 L167.88,236.45 L168.15,236.31 L168.43,236.17 L168.70,236.03 L168.97,235.90 L169.25,235.76 L169.52,235.62 L169.79,235.48 L170.07,235.35 L170.34,235.21 L170.62,235.08 L170.89,234.94 L171.16,234.81 L171.44,234.67 L171.71,234.54 L171.98,234.41 L172.26,234.28 L172.53,234.14 L172.81,234.01 L173.08,233.88 L173.35,233.75 L173.63,233.62 L173.90,233.49 L174.17,233.36 L174.45,233.23 L174.72,233.10 L174.99,232.98 L175.27,232.85 L175.54,232.72 L175.82,232.59 L176.09,232.47 L176.36,232.34 L176.64,232.22 L176.91,232.09 L177.18,231.97 L177.46,231.84 L177.73,231.72 L178.01,231.60 L178.28,231.47 L178.55,231.35 L178.83,231.23 L179.10,231.10 L179.37,230.98 L179.65,230.86 L179.92,230.74 L180.20,230.62 L180.47,230.50 L180.74,230.38 L181.02,230.26 L181.29,230.14 L181.56,230.02 L181.84,229.90 L182.11,229.79 L182.38,229.67 L182.66,229.55 L182.93,229.43 L183.21,229.32 L183.48,229.20 L183.75,229.09 L184.03,228.97 L184.30,228.85 L184.57,228.74 L184.85,228.62 L185.12,228.51 L185.40,228.40 L185.67,228.28 L185.94,228.17 L186.22,228.06 L186.49,227.94 L186.76,227.83 L187.04,227.72 L187.31,227.61 L187.59,227.49 L187.86,227.38 L188.13,227.27 L188.41,227.16 L188.68,227.05 L188.95,226.94 L189.23,226.83 L189.50,226.72 L189.77,226.61 L190.05,226.50 L190.32,226.39 L190.60,226.28 L190.87,226.18 L191.14,226.07 L191.42,225.96 L191.69,225.85 L191.96,225.75 L192.24,225.64 L192.51,225.53 L192.79,225.43 L193.06,225.32 L193.33,225.21 L193.61,225.11 L193.88,225.00 L194.15,224.90 L194.43,224.79 L194.70,224.69 L194.98,224.58 L195.25,224.48 L195.52,224.37 L195.80,224.27 L196.07,224.17 L196.34,224.06 L196.62,223.96 L196.89,223.86 L197.16,223.75 L197.44,223.65 L197.71,223.55 L197.99,223.45 L198.26,223.35 L198.53,223.24 L198.81,223.14 L199.08,223.04 L199.35,222.94 L199.63,222.84 L199.90,222.74 L200.18,222.64 L200.45,222.54 L200.72,222.44 L201.00,222.34 L201.27,222.24 L201.54,222.14 L201.82,222.04 L202.09,221.94 L202.36,221.84 L202.64,221.74 L202.91,221.65 L203.19,221.55 L203.46,221.45 L203.73,221.35 L204.01,221.25 L204.28,221.16 L204.55,221.06 L204.83,220.96 L205.10,220.87 L205.38,220.77 L205.65,220.67 L205.92,220.58 L206.20,220.48 L206.47,220.38 L206.74,220.29 L207.02,220.19 L207.29,220.10 L207.57,220.00 L207.84,219.90 L208.11,219.81 L208.39,219.71 L208.66,219.62 L208.93,219.53 L209.21,219.43 L209.48,219.34 L209.75,219.24 L210.03,219.15 L210.30,219.05 L210.58,218.96 L210.85,218.87 L211.12,218.77 L211.40,218.68 L211.67,218.59 L211.94,218.49 L212.22,218.40 L212.49,218.31 L212.77,218.21 L213.04,218.12 L213.31,218.03 L213.59,217.94 L213.86,217.85 L214.13,217.75 L214.41,217.66 L214.68,217.57 L214.96,217.48 L215.23,217.39 L215.50,217.29 L215.78,217.20 L216.05,217.11 L216.32,217.02 L216.60,216.93 L216.87,216.84 L217.14,216.75 L217.42,216.66 L217.69,216.57 L217.97,216.48 L218.24,216.39 L218.51,216.30 L218.79,216.21 L219.06,216.12 L219.33,216.03 L219.61,215.94 L219.88,215.85 L220.16,215.76 L220.43,215.67 L220.70,215.58 L220.98,215.49 L221.25,215.40 L221.52,215.31 L221.80,215.22 L222.07,215.13 L222.35,215.04 L222.62,214.95 L222.89,214.86 L223.17,214.78 L223.44,214.69 L223.71,214.60 L223.99,214.51 L224.26,214.42 L224.53,214.33 L224.81,214.24 L225.08,214.16 L225.36,214.07 L225.63,213.98 L225.90,213.89 L226.18,213.80 L226.45,213.72 L226.72,213.63 L227.00,213.54 L227.27,213.45 L227.55,213.36 L227.82,213.28 L228.09,213.19 L228.37,213.10 L228.64,213.01 L228.91,212.93 L229.19,212.84 L229.46,212.75 L229.73,212.66 L230.01,212.58 L230.28,212.49 L230.56,212.40 L230.83,212.32 L231.10,212.23 L231.38,212.14 L231.65,212.05 L231.92,211.97 L232.20,211.88 L232.47,211.79 L232.75,211.71 L233.02,211.62 L233.29,211.53 L233.57,211.44 L233.84,211.36 L234.11,211.27 L234.39,211.18 L234.66,211.10 L234.94,211.01 L235.21,210.92 L235.48,210.84 L235.76,210.75 L236.03,210.66 L236.30,210.58 L236.58,210.49 L236.85,210.40 L237.12,210.31 L237.40,210.23 L237.67,210.14 L237.95,210.05 L238.22,209.97 L238.49,209.88 L238.77,209.79 L239.04,209.71 L239.31,209.62 L239.59,209.53 L239.86,209.44 L240.14,209.36 L240.41,209.27 L240.68,209.18 L240.96,209.10 L241.23,209.01 L241.50,208.92 L241.78,208.83 L242.05,208.75 L242.33,208.66 L242.60,208.57 L242.87,208.48 L243.15,208.40 L243.42,208.31 L243.69,208.22 L243.97,208.13 L244.24,208.05 L244.51,207.96 L244.79,207.87 L245.06,207.78 L245.34,207.69 L245.61,207.61 L245.88,207.52 L246.16,207.43 L246.43,207.34 L246.70,207.25 L246.98,207.16 L247.25,207.08 L247.53,206.99 L247.80,206.90 L248.07,206.81 L248.35,206.72 L248.62,206.63 L248.89,206.54 L249.17,206.45 L249.44,206.36 L249.72,206.27 L249.99,206.18 L250.26,206.10 L250.54,206.01 L250.81,205.92 L251.08,205.83 L251.36,205.73 L251.63,205.64 L251.90,205.55 L252.18,205.46 L252.45,205.37 L252.73,205.28 L253.00,205.19 L253.27,205.10 L253.55,205.01 L253.82,204.92 L254.09,204.82 L254.37,204.73 L254.64,204.64 L254.92,204.55 L255.19,204.46 L255.46,204.36 L255.74,204.27 L256.01,204.18 L256.28,204.08 L256.56,203.99 L256.83,203.90 L257.10,203.80 L257.38,203.71 L257.65,203.61 L257.93,203.52 L258.20,203.42 L258.47,203.33 L258.75,203.23 L259.02,203.14 L259.29,203.04 L259.57,202.95 L259.84,202.85 L260.12,202.75 L260.39,202.66 L260.66,202.56 L260.94,202.46 L261.21,202.36 L261.48,202.27 L261.76,202.17 L262.03,202.07 L262.31,201.97 L262.58,201.87 L262.85,201.77 L263.13,201.67 L263.40,201.57 L263.67,201.47 L263.95,201.37 L264.22,201.27 L264.49,201.17 L264.77,201.06 L265.04,200.96 L265.32,200.86 L265.59,200.75 L265.86,200.65 L266.14,200.55 L266.41,200.44 L266.68,200.34 L266.96,200.23 L267.23,200.13 L267.51,200.02 L267.78,199.91 L268.05,199.80 L268.33,199.70 L268.60,199.59 L268.87,199.48 L269.15,199.37 L269.42,199.26 L269.70,199.15 L269.97,199.04 L270.24,198.93 L270.52,198.81 L270.79,198.70 L271.06,198.59 L271.34,198.47 L271.61,198.36 L271.88,198.24 L272.16,198.13 L272.43,198.01 L272.71,197.89 L272.98,197.77 L273.25,197.65 L273.53,197.53 L273.80,197.41 L274.07,197.29 L274.35,197.17 L274.62,197.05 L274.90,196.92 L275.17,196.80 L275.44,196.67 L275.72,196.54 L275.99,196.42 L276.26,196.29 L276.54,196.16 L276.81,196.03 L277.09,195.89 L277.36,195.76 L277.63,195.63 L277.91,195.49 L278.18,195.36 L278.45,195.22 L278.73,195.08 L279.00,194.94 L279.27,194.80 L279.55,194.65 L279.82,194.51 L280.10,194.36 L280.37,194.22 L280.64,194.07 L280.92,193.92 L281.19,193.77 L281.46,193.61 L281.74,193.46 L282.01,193.30 L282.29,193.14 L282.56,192.98 L282.83,192.82 L283.11,192.65 L283.38,192.49 L283.65,192.32 L283.93,192.15 L284.20,191.97 L284.47,191.80 L284.75,191.62 L285.02,191.44 L285.30,191.25 L285.57,191.07 L285.84,190.88 L286.12,190.69 L286.39,190.49 L286.66,190.29 L286.94,190.09 L287.21,189.88 L287.49,189.67 L287.76,189.46 L288.03,189.24 L288.31,189.02 L288.58,188.79 L288.85,188.56 L289.13,188.33 L289.40,188.08 L289.68,187.84 L289.95,187.58 L290.22,187.33 L290.50,187.06 L290.77,186.79 L291.04,186.51 L291.32,186.22 L291.59,185.93 L291.86,185.62 L292.14,185.31 L292.41,184.99 L292.69,184.65 L292.96,184.31 L293.23,183.95 L293.51,183.58 L293.78,183.19 L294.88,181.46 L295.97,179.35 L297.07,176.59 L298.16,172.57 L299.25,164.83 L299.97,161.00" fill="none" stroke="#333" stroke-width="1.3" stroke-linejoin="round" stroke-linecap="round"/>
<path d="M300.54,161.00 L301.44,170.41 L302.54,174.97 L303.63,177.85 L304.73,179.94 L305.82,181.58 L306.92,182.92 L307.19,183.22 L307.47,183.51 L307.74,183.78 L308.01,184.05 L308.29,184.31 L308.56,184.55 L308.83,184.79 L309.11,185.02 L309.38,185.25 L309.66,185.47 L309.93,185.68 L310.20,185.88 L310.48,186.08 L310.75,186.27 L311.02,186.46 L311.30,186.64 L311.57,186.82 L311.84,186.99 L312.12,187.16 L312.39,187.33 L312.67,187.49 L312.94,187.64 L313.21,187.80 L313.49,187.95 L313.76,188.09 L314.03,188.23 L314.31,188.37 L314.58,188.51 L314.86,188.65 L315.13,188.78 L315.40,188.91 L315.68,189.03 L315.95,189.16 L316.22,189.28 L316.50,189.40 L316.77,189.51 L317.05,189.63 L317.32,189.74 L317.59,189.85 L317.87,189.96 L318.14,190.07 L318.41,190.17 L318.69,190.28 L318.96,190.38 L319.23,190.48 L319.51,190.58 L319.78,190.67 L320.06,190.77 L320.33,190.86 L320.60,190.96 L320.88,191.05 L321.15,191.14 L321.42,191.22 L321.70,191.31 L321.97,191.40 L322.25,191.48 L322.52,191.57 L322.79,191.65 L323.07,191.73 L323.34,191.81 L323.61,191.89 L323.89,191.97 L324.16,192.04 L324.44,192.12 L324.71,192.19 L324.98,192.27 L325.26,192.34 L325.53,192.41 L325.80,192.48 L326.08,192.55 L326.35,192.62 L326.62,192.69 L326.90,192.76 L327.17,192.83 L327.45,192.90 L327.72,192.96 L327.99,193.03 L328.27,193.09 L328.54,193.15 L328.81,193.22 L329.09,193.28 L329.36,193.34 L329.64,193.40 L329.91,193.46 L330.18,193.52 L330.46,193.58 L330.73,193.64 L331.00,193.70 L331.28,193.75 L331.55,193.81 L331.83,193.87 L332.10,193.92 L332.37,193.98 L332.65,194.03 L332.92,194.09 L333.19,194.14 L333.47,194.19 L333.74,194.24 L334.01,194.30 L334.29,194.35 L334.56,194.40 L334.84,194.45 L335.11,194.50 L335.38,194.55 L335.66,194.60 L335.93,194.65 L336.20,194.70 L336.48,194.75 L336.75,194.79 L337.03,194.84 L337.30,194.89 L337.57,194.93 L337.85,194.98 L338.12,195.03 L338.39,195.07 L338.67,195.12 L338.94,195.16 L339.21,195.21 L339.49,195.25 L339.76,195.30 L340.04,195.34 L340.31,195.38 L340.58,195.43 L340.86,195.47 L341.13,195.51 L341.40,195.55 L341.68,195.59 L341.95,195.64 L342.23,195.68 L342.50,195.72 L342.77,195.76 L343.05,195.80 L343.32,195.84 L343.59,195.88 L343.87,195.92 L344.14,195.96 L344.42,196.00 L344.69,196.04 L344.96,196.07 L345.24,196.11 L345.51,196.15 L345.78,196.19 L346.06,196.23 L346.33,196.26 L346.60,196.30 L346.88,196.34 L347.15,196.38 L347.43,196.41 L347.70,196.45 L347.97,196.48 L348.25,196.52 L348.52,196.56 L348.79,196.59 L349.07,196.63 L349.34,196.66 L349.62,196.70 L349.89,196.73 L350.16,196.77 L350.44,196.80 L350.71,196.84 L350.98,196.87 L351.26,196.90 L351.53,196.94 L351.81,196.97 L352.08,197.01 L352.35,197.04 L352.63,197.07 L352.90,197.11 L353.17,197.14 L353.45,197.17 L353.72,197.20 L353.99,197.24 L354.27,197.27 L354.54,197.30 L354.82,197.33 L355.09,197.36 L355.36,197.40 L355.64,197.43 L355.91,197.46 L356.18,197.49 L356.46,197.52 L356.73,197.55 L357.01,197.58 L357.28,197.62 L357.55,197.65 L357.83,197.68 L358.10,197.71 L358.37,197.74 L358.65,197.77 L358.92,197.80 L359.20,197.83 L359.47,197.86 L359.74,197.89 L360.02,197.92 L360.29,197.95 L360.56,197.98 L360.84,198.01 L361.11,198.04 L361.38,198.07 L361.66,198.10 L361.93,198.12 L362.21,198.15 L362.48,198.18 L362.75,198.21 L363.03,198.24 L363.30,198.27 L363.57,198.30 L363.85,198.33 L364.12,198.35 L364.40,198.38 L364.67,198.41 L364.94,198.44 L365.22,198.47 L365.49,198.50 L365.76,198.52 L366.04,198.55 L366.31,198.58 L366.58,198.61 L366.86,198.63 L367.13,198.66 L367.41,198.69 L367.68,198.72 L367.95,198.75 L368.23,198.77 L368.50,198.80 L368.77,198.83 L369.05,198.85 L369.32,198.88 L369.60,198.91 L369.87,198.94 L370.14,198.96 L370.42,198.99 L370.69,199.02 L370.96,199.04 L371.24,199.07 L371.51,199.10 L371.79,199.12 L372.06,199.15 L372.33,199.18 L372.61,199.20 L372.88,199.23 L373.15,199.26 L373.43,199.28 L373.70,199.31 L373.97,199.33 L374.25,199.36 L374.52,199.39 L374.80,199.41 L375.07,199.44 L375.34,199.46 L375.62,199.49 L375.89,199.52 L376.16,199.54 L376.44,199.57 L376.71,199.59 L376.99,199.62 L377.26,199.65 L377.53,199.67 L377.81,199.70 L378.08,199.72 L378.35,199.75 L378.63,199.77 L378.90,199.80 L379.18,199.83 L379.45,199.85 L379.72,199.88 L380.00,199.90 L380.27,199.93 L380.54,199.95 L380.82,199.98 L381.09,200.00 L381.36,200.03 L381.64,200.06 L381.91,200.08 L382.19,200.11 L382.46,200.13 L382.73,200.16 L383.01,200.18 L383.28,200.21 L383.55,200.23 L383.83,200.26 L384.10,200.28 L384.38,200.31 L384.65,200.33 L384.92,200.36 L385.20,200.38 L385.47,200.41 L385.74,200.43 L386.02,200.46 L386.29,200.48 L386.57,200.51 L386.84,200.53 L387.11,200.56 L387.39,200.58 L387.66,200.61 L387.93,200.63 L388.21,200.66 L388.48,200.68 L388.75,200.71 L389.03,200.73 L389.30,200.76 L389.58,200.78 L389.85,200.81 L390.12,200.83 L390.40,200.86 L390.67,200.88 L390.94,200.91 L391.22,200.93 L391.49,200.96 L391.77,200.98 L392.04,201.01 L392.31,201.03 L392.59,201.06 L392.86,201.08 L393.13,201.11 L393.41,201.13 L393.68,201.16 L393.95,201.18 L394.23,201.21 L394.50,201.23 L394.78,201.26 L395.05,201.28 L395.32,201.31 L395.60,201.33 L395.87,201.36 L396.14,201.38 L396.42,201.41 L396.69,201.43 L396.97,201.46 L397.24,201.48 L397.51,201.51 L397.79,201.53 L398.06,201.56 L398.33,201.58 L398.61,201.61 L398.88,201.63 L399.16,201.66 L399.43,201.68 L399.70,201.71 L399.98,201.73 L400.25,201.76 L400.52,201.78 L400.80,201.81 L401.07,201.84 L401.34,201.86 L401.62,201.89 L401.89,201.91 L402.17,201.94 L402.44,201.96 L402.71,201.99 L402.99,202.01 L403.26,202.04 L403.53,202.06 L403.81,202.09 L404.08,202.11 L404.36,202.14 L404.63,202.16 L404.90,202.19 L405.18,202.21 L405.45,202.24 L405.72,202.27 L406.00,202.29 L406.27,202.32 L406.55,202.34 L406.82,202.37 L407.09,202.39 L407.37,202.42 L407.64,202.44 L407.91,202.47 L408.19,202.50 L408.46,202.52 L408.73,202.55 L409.01,202.57 L409.28,202.60 L409.56,202.62 L409.83,202.65 L410.10,202.68 L410.38,202.70 L410.65,202.73 L410.92,202.75 L411.20,202.78 L411.47,202.81 L411.75,202.83 L412.02,202.86 L412.29,202.88 L412.57,202.91 L412.84,202.94 L413.11,202.96 L413.39,202.99 L413.66,203.01 L413.94,203.04 L414.21,203.07 L414.48,203.09 L414.76,203.12 L415.03,203.15 L415.30,203.17 L415.58,203.20 L415.85,203.22 L416.12,203.25 L416.40,203.28 L416.67,203.30 L416.95,203.33 L417.22,203.36 L417.49,203.38 L417.77,203.41 L418.04,203.44 L418.31,203.46 L418.59,203.49 L418.86,203.52 L419.14,203.54 L419.41,203.57 L419.68,203.60 L419.96,203.62 L420.23,203.65 L420.50,203.68 L420.78,203.71 L421.05,203.73 L421.32,203.76 L421.60,203.79 L421.87,203.81 L422.15,203.84 L422.42,203.87 L422.69,203.90 L422.97,203.92 L423.24,203.95 L423.51,203.98 L423.79,204.01 L424.06,204.03 L424.34,204.06 L424.61,204.09 L424.88,204.12 L425.16,204.14 L425.43,204.17 L425.70,204.20 L425.98,204.23 L426.25,204.25 L426.53,204.28 L426.80,204.31 L427.07,204.34 L427.35,204.37 L427.62,204.39 L427.89,204.42 L428.17,204.45 L428.44,204.48 L428.71,204.51 L428.99,204.54 L429.26,204.56 L429.54,204.59 L429.81,204.62 L430.08,204.65 L430.36,204.68 L430.63,204.71 L430.90,204.73 L431.18,204.76 L431.45,204.79 L431.73,204.82 L432.00,204.85 L432.27,204.88 L432.55,204.91 L432.82,204.94 L433.09,204.96 L433.37,204.99 L433.64,205.02 L433.92,205.05 L434.19,205.08 L434.46,205.11 L434.74,205.14 L435.01,205.17 L435.28,205.20 L435.56,205.23 L435.83,205.26 L436.10,205.29 L436.38,205.32 L436.65,205.35 L436.93,205.38 L437.20,205.41 L437.47,205.43 L437.75,205.46 L438.02,205.49 L438.29,205.52 L438.57,205.55 L438.84,205.58 L439.12,205.61 L439.39,205.65 L439.66,205.68 L439.94,205.71 L440.21,205.74 L440.48,205.77 L440.76,205.80 L441.03,205.83 L441.31,205.86 L441.58,205.89 L441.85,205.92 L442.13,205.95 L442.40,205.98 L442.67,206.01 L442.95,206.04 L443.22,206.07 L443.49,206.10 L443.77,206.14 L444.04,206.17 L444.32,206.20 L444.59,206.23 L444.86,206.26 L445.14,206.29 L445.41,206.32 L445.68,206.35 L445.96,206.39 L446.23,206.42 L446.51,206.45 L446.78,206.48 L447.05,206.51 L447.33,206.55 L447.60,206.58 L447.87,206.61 L448.15,206.64 L448.42,206.67 L448.69,206.71 L448.97,206.74 L449.24,206.77 L449.52,206.80 L449.79,206.83 L450.06,206.87 L450.34,206.90 L450.61,206.93 L450.88,206.97 L451.16,207.00 L451.43,207.03 L451.71,207.06 L451.98,207.10 L452.25,207.13 L452.53,207.16 L452.80,207.20 L453.07,207.23 L453.35,207.26 L453.62,207.30 L453.90,207.33 L454.17,207.36 L454.44,207.40 L454.72,207.43 L454.99,207.46 L455.26,207.50 L455.54,207.53 L455.81,207.57 L456.08,207.60 L456.36,207.63 L456.63,207.67 L456.91,207.70 L457.18,207.74 L457.45,207.77 L457.73,207.81 L458.00,207.84 L458.27,207.87 L458.55,207.91 L458.82,207.94 L459.10,207.98 L459.37,208.01 L459.64,208.05 L459.92,208.08 L460.19,208.12 L460.46,208.15 L460.74,208.19 L461.01,208.22 L461.29,208.26 L461.56,208.30 L461.83,208.33 L462.11,208.37 L462.38,208.40 L462.65,208.44 L462.93,208.47 L463.20,208.51 L463.47,208.55 L463.75,208.58 L464.02,208.62 L464.30,208.65 L464.57,208.69 L464.84,208.73 L465.12,208.76 L465.39,208.80 L465.66,208.84 L465.94,208.87 L466.21,208.91 L466.49,208.95 L466.76,208.98 L467.03,209.02 L467.31,209.06 L467.58,209.10 L467.85,209.13 L468.13,209.17 L468.40,209.21 L468.68,209.25 L468.95,209.28 L469.22,209.32 L469.50,209.36 L469.77,209.40 L470.04,209.44 L470.32,209.47 L470.59,209.51 L470.86,209.55 L471.14,209.59 L471.41,209.63 L471.69,209.66 L471.96,209.70 L472.23,209.74 L472.51,209.78 L472.78,209.82 L473.05,209.86 L473.33,209.90 L473.60,209.94 L473.88,209.98 L474.15,210.02 L474.42,210.06 L474.70,210.09 L474.97,210.13 L475.24,210.17 L475.52,210.21 L475.79,210.25 L476.06,210.29 L476.34,210.33 L476.61,210.37 L476.89,210.41 L477.16,210.45 L477.43,210.49 L477.71,210.54 L477.98,210.58 L478.25,210.62 L478.53,210.66 L478.80,210.70 L479.08,210.74 L479.35,210.78 L479.62,210.82 L479.90,210.86 L480.17,210.90 L480.44,210.95 L480.72,210.99 L480.99,211.03 L481.27,211.07 L481.54,211.11 L481.81,211.15 L482.09,211.20 L482.36,211.24 L482.63,211.28 L482.91,211.32 L483.18,211.37 L483.45,211.41 L483.73,211.45 L484.00,211.49 L484.28,211.54 L484.55,211.58 L484.82,211.62 L485.10,211.67 L485.37,211.71 L485.64,211.75 L485.92,211.80 L486.19,211.84 L486.47,211.88 L486.74,211.93 L487.01,211.97 L487.29,212.02 L487.56,212.06 L487.83,212.10 L488.11,212.15 L488.38,212.19 L488.66,212.24 L488.93,212.28 L489.20,212.33 L489.48,212.37 L489.75,212.42 L490.02,212.46 L490.30,212.51 L490.57,212.55 L490.84,212.60 L491.12,212.64 L491.39,212.69 L491.67,212.74 L491.94,212.78 L492.21,212.83 L492.49,212.87 L492.76,212.92 L493.03,212.97 L493.31,213.01 L493.58,213.06 L493.86,213.11 L494.13,213.15 L494.40,213.20 L494.68,213.25 L494.95,213.30 L495.22,213.34 L495.50,213.39 L495.77,213.44 L496.05,213.49 L496.32,213.53 L496.59,213.58 L496.87,213.63 L497.14,213.68 L497.41,213.73 L497.69,213.77 L497.96,213.82 L498.23,213.87 L498.51,213.92 L498.78,213.97 L499.06,214.02 L499.33,214.07 L499.60,214.12 L499.88,214.17 L500.15,214.22 L500.42,214.27 L500.70,214.31 L500.97,214.36 L501.25,214.41 L501.52,214.47 L501.79,214.52 L502.07,214.57 L502.34,214.62 L502.61,214.67 L502.89,214.72 L503.16,214.77 L503.43,214.82 L503.71,214.87 L503.98,214.92 L504.26,214.97 L504.53,215.03 L504.80,215.08 L505.08,215.13 L505.35,215.18 L505.62,215.23 L505.90,215.29 L506.17,215.34 L506.45,215.39 L506.72,215.44 L506.99,215.50 L507.27,215.55 L507.54,215.60 L507.81,215.66 L508.09,215.71 L508.36,215.76 L508.64,215.82 L508.91,215.87 L509.18,215.93 L509.46,215.98 L509.73,216.03 L510.00,216.09 L510.28,216.14 L510.55,216.20 L510.82,216.25 L511.10,216.31 L511.37,216.36 L511.65,216.42 L511.92,216.47 L512.19,216.53 L512.47,216.58 L512.74,216.64 L513.01,216.70 L513.29,216.75 L513.56,216.81 L513.84,216.87 L514.11,216.92 L514.38,216.98 L514.66,217.04 L514.93,217.09 L515.20,217.15 L515.48,217.21 L515.75,217.27 L516.03,217.32 L516.30,217.38 L516.57,217.44 L516.85,217.50 L517.12,217.56 L517.39,217.62 L517.67,217.67 L517.94,217.73 L518.21,217.79 L518.49,217.85 L518.76,217.91 L519.04,217.97 L519.31,218.03 L519.58,218.09 L519.86,218.15 L520.13,218.21 L520.40,218.27 L520.68,218.33 L520.95,218.39 L521.23,218.45 L521.50,218.51 L521.77,218.57 L522.05,218.64 L522.32,218.70 L522.59,218.76 L522.87,218.82 L523.14,218.88 L523.42,218.95 L523.69,219.01 L523.96,219.07 L524.24,219.13 L524.51,219.20 L524.78,219.26 L525.06,219.32 L525.33,219.39 L525.60,219.45 L525.88,219.52 L526.15,219.58 L526.43,219.64 L526.70,219.71 L526.97,219.77 L527.25,219.84 L527.52,219.90 L527.79,219.97 L528.07,220.03 L528.34,220.10 L528.62,220.16 L528.89,220.23 L529.16,220.30 L529.44,220.36 L529.71,220.43 L529.98,220.50 L530.26,220.56 L530.53,220.63 L530.80,220.70 L531.08,220.77 L531.35,220.83 L531.63,220.90 L531.90,220.97 L532.17,221.04 L532.45,221.11 L532.72,221.18 L532.99,221.24 L533.27,221.31 L533.54,221.38 L533.82,221.45 L534.09,221.52 L534.36,221.59 L534.64,221.66 L534.91,221.73 L535.18,221.80 L535.46,221.88 L535.73,221.95 L536.01,222.02 L536.28,222.09 L536.55,222.16 L536.83,222.23 L537.10,222.31 L537.37,222.38 L537.65,222.45 L537.92,222.52 L538.19,222.60 L538.47,222.67 L538.74,222.74 L539.02,222.82 L539.29,222.89 L539.56,222.97 L539.84,223.04 L540.11,223.11 L540.38,223.19 L540.66,223.26 L540.93,223.34 L541.21,223.42 L541.48,223.49 L541.75,223.57 L542.03,223.64 L542.30,223.72 L542.57,223.80 L542.85,223.87 L543.12,223.95 L543.40,224.03 L543.67,224.11 L543.94,224.18 L544.22,224.26 L544.49,224.34 L544.76,224.42 L545.04,224.50 L545.31,224.58 L545.58,224.66 L545.86,224.74 L546.13,224.82 L546.41,224.90 L546.68,224.98 L546.95,225.06 L547.23,225.14 L547.50,225.22 L547.77,225.30 L548.05,225.39 L548.32,225.47 L548.60,225.55 L548.87,225.63 L549.14,225.72 L549.42,225.80 L549.69,225.88 L549.96,225.97 L550.24,226.05 L550.51,226.14 L550.79,226.22 L551.06,226.31 L551.33,226.39 L551.61,226.48 L551.88,226.56 L552.15,226.65 L552.43,226.74 L552.70,226.82 L552.97,226.91 L553.25,227.00 L553.52,227.08 L553.80,227.17 L554.07,227.26 L554.34,227.35 L554.62,227.44 L554.89,227.53 L555.16,227.62 L555.44,227.71 L555.71,227.80 L555.99,227.89 L556.26,227.98 L556.53,228.07 L556.81,228.16 L557.08,228.25 L557.35,228.34 L557.63,228.44 L557.90,228.53 L558.17,228.62 L558.45,228.71 L558.72,228.81 L559.00,228.90 L559.27,229.00 L559.54,229.09 L559.82,229.19 L560.09,229.28 L560.36,229.38 L560.64,229.47 L560.91,229.57 L561.19,229.67 L561.46,229.76 L561.73,229.86 L562.01,229.96 L562.28,230.06 L562.55,230.16 L562.83,230.25 L563.10,230.35 L563.38,230.45 L563.65,230.55 L563.92,230.65 L564.20,230.75 L564.47,230.85 L564.74,230.96 L565.02,231.06 L565.29,231.16 L565.56,231.26 L565.84,231.37 L566.11,231.47 L566.39,231.57 L566.66,231.68 L566.93,231.78 L567.21,231.89 L567.48,231.99 L567.75,232.10 L568.03,232.20 L568.30,232.31 L568.58,232.42 L568.85,232.53 L569.12,232.63 L569.40,232.74 L569.67,232.85 L569.94,232.96 L570.22,233.07 L570.49,233.18 L570.77,233.29 L571.04,233.40 L571.31,233.51 L571.59,233.62 L571.86,233.74 L572.13,233.85 L572.41,233.96 L572.68,234.07 L572.95,234.19 L573.23,234.30 L573.50,234.42 L573.78,234.53 L574.05,234.65 L574.32,234.77 L574.60,234.88 L574.87,235.00 L575.14,235.12 L575.42,235.24 L575.69,235.36 L575.97,235.47 L576.24,235.59 L576.51,235.72 L576.79,235.84 L577.06,235.96 L577.33,236.08 L577.61,236.20 L577.88,236.32 L578.16,236.45 L578.43,236.57 L578.70,236.70 L578.98,236.82 L579.25,236.95 L579.52,237.07 L579.80,237.20 L580.07,237.33 L580.34,237.46 L580.62,237.58 L580.89,237.71 L581.17,237.84 L581.44,237.97 L581.71,238.10 L581.99,238.24 L582.26,238.37 L582.53,238.50 L582.81,238.63 L583.08,238.77 L583.36,238.90 L583.63,239.04 L583.90,239.17 L584.18,239.31 L584.45,239.44 L584.72,239.58 L585.00,239.72 L585.27,239.86 L585.54,240.00 L585.82,240.14 L586.09,240.28 L586.37,240.42 L586.64,240.56 L586.91,240.71 L587.19,240.85 L587.46,240.99 L587.73,241.14 L588.01,241.28 L588.28,241.43 L588.56,241.58 L588.83,241.73 L589.10,241.87 L589.38,242.02 L589.65,242.17 L589.92,242.32 L590.20,242.48 L590.47,242.63 L590.75,242.78 L591.02,242.94 L591.29,243.09 L591.57,243.25 L591.84,243.40 L592.11,243.56 L592.39,243.72 L592.66,243.88 L592.93,244.04 L593.21,244.20 L593.48,244.36 L593.76,244.52 L594.03,244.68 L594.30,244.85 L594.58,245.01 L594.85,245.18 L595.12,245.34 L595.40,245.51 L595.67,245.68 L595.95,245.85 L596.22,246.02 L596.49,246.19 L596.77,246.36 L597.04,246.54 L597.31,246.71 L597.59,246.88 L597.86,247.06 L598.14,247.24 L598.41,247.42 L598.68,247.60 L598.96,247.78 L599.23,247.96 L599.50,248.14 L599.78,248.32 L600.05,248.51 L600.32,248.69 L600.60,248.88 L600.87,249.07 L601.15,249.26 L601.42,249.45 L601.69,249.64 L601.97,249.83 L602.24,250.03 L602.51,250.22 L602.79,250.42 L603.06,250.61 L603.34,250.81 L603.61,251.01 L603.88,251.21 L604.16,251.42 L604.43,251.62 L604.70,251.83 L604.98,252.03 L605.25,252.24 L605.53,252.45 L605.80,252.66 L606.07,252.87 L606.35,253.09 L606.62,253.30 L606.89,253.52 L607.17,253.74 L607.44,253.96 L607.71,254.18 L607.99,254.40 L608.26,254.62 L608.54,254.85 L608.81,255.08 L609.08,255.31 L609.36,255.54 L609.63,255.77 L609.90,256.00 L610.18,256.24 L610.45,256.48 L610.73,256.72 L611.00,256.96 L611.27,257.20 L611.55,257.45 L611.82,257.69 L612.09,257.94 L612.37,258.19 L612.64,258.45 L612.91,258.70 L613.19,258.96 L613.46,259.22 L613.74,259.48 L614.01,259.74 L614.28,260.01 L614.56,260.27 L614.83,260.54 L615.10,260.82 L615.38,261.09 L615.65,261.37 L615.93,261.65 L616.20,261.93 L616.47,262.21 L616.75,262.50 L617.02,262.79 L617.29,263.08 L617.57,263.37 L617.84,263.67 L618.12,263.97 L618.39,264.27 L618.66,264.58 L618.94,264.89 L619.21,265.20 L619.48,265.51 L619.76,265.83 L620.03,266.15 L620.30,266.48 L620.58,266.80 L620.85,267.13 L621.13,267.47 L621.40,267.80 L621.67,268.15 L621.95,268.49 L622.22,268.84 L622.49,269.19 L622.77,269.55 L623.04,269.90 L623.32,270.27 L623.59,270.64 L623.86,271.01 L624.14,271.38 L624.41,271.76 L624.68,272.15 L624.96,272.54 L625.23,272.93 L625.51,273.33 L625.78,273.74 L626.05,274.15 L626.33,274.56 L626.60,274.98 L626.87,275.40 L627.15,275.83 L627.42,276.27 L627.69,276.71 L627.97,277.16 L628.24,277.62 L628.52,278.08 L628.79,278.54 L629.06,279.02 L629.34,279.50 L629.61,279.99 L629.88,280.48 L630.16,280.98 L630.43,281.49 L630.71,282.01 L630.98,282.54 L631.25,283.08 L631.53,283.62 L631.80,284.17 L632.07,284.74 L632.35,285.31 L632.62,285.89 L632.90,286.48 L633.17,287.09 L633.44,287.70 L633.72,288.33 L633.99,288.97 L634.26,289.62 L634.54,290.29 L634.81,290.96 L635.08,291.66 L635.36,292.36 L635.63,293.09 L635.91,293.82 L636.18,294.58 L636.45,295.35 L636.73,296.14 L637.00,296.96 L637.27,297.79 L637.55,298.64 L637.82,299.51 L638.10,300.41 L638.37,301.34 L638.64,302.29 L638.92,303.26 L639.19,304.27 L639.46,305.31 L639.74,306.38 L640.01,307.49 L640.28,308.64 L640.56,309.83 L640.83,311.06 L641.11,312.34 L641.38,313.67 L641.54,314.50" fill="none" stroke="#333" stroke-width="1.3" stroke-linejoin="round" stroke-linecap="round"/>
<path d="M112.35,468.40 L112.48,468.05 L112.75,467.28 L113.02,466.53 L113.30,465.80 L113.57,465.08 L113.84,464.38 L114.12,463.69 L114.39,463.02 L114.67,462.36 L114.94,461.71 L115.21,461.07 L115.49,460.45 L115.76,459.83 L116.03,459.23 L116.31,458.64 L116.58,458.06 L116.85,457.49 L117.13,456.93 L117.40,456.38 L117.68,455.83 L117.95,455.30 L118.22,454.77 L118.50,454.26 L118.77,453.75 L119.04,453.24 L119.32,452.75 L119.59,452.26 L119.87,451.78 L120.14,451.31 L120.41,450.84 L120.69,450.38 L120.96,449.93 L121.23,449.48 L121.51,449.04 L121.78,448.60 L122.06,448.17 L122.33,447.74 L122.60,447.32 L122.88,446.91 L123.15,446.50 L123.42,446.10 L123.70,445.70 L123.97,445.30 L124.24,444.91 L124.52,444.52 L124.79,444.14 L125.07,443.77 L125.34,443.39 L125.61,443.02 L125.89,442.66 L126.16,442.30 L126.43,441.94 L126.71,441.59 L126.98,441.24 L127.26,440.89 L127.53,440.55 L127.80,440.21 L128.08,439.88 L128.35,439.55 L128.62,439.22 L128.90,438.89 L129.17,438.57 L129.45,438.25 L129.72,437.93 L129.99,437.62 L130.27,437.31 L130.54,437.00 L130.81,436.70 L131.09,436.40 L131.36,436.10 L131.63,435.80 L131.91,435.51 L132.18,435.22 L132.46,434.93 L132.73,434.64 L133.00,434.36 L133.28,434.08 L133.55,433.80 L133.82,433.52 L134.10,433.25 L134.37,432.97 L134.65,432.70 L134.92,432.44 L135.19,432.17 L135.47,431.91 L135.74,431.64 L136.01,431.39 L136.29,431.13 L136.56,430.87 L136.83,430.62 L137.11,430.37 L137.38,430.12 L137.66,429.87 L137.93,429.62 L138.20,429.38 L138.48,429.14 L138.75,428.90 L139.02,428.66 L139.30,428.42 L139.57,428.18 L139.85,427.95 L140.12,427.72 L140.39,427.49 L140.67,427.26 L140.94,427.03 L141.21,426.81 L141.49,426.58 L141.76,426.36 L142.04,426.14 L142.31,425.92 L142.58,425.70 L142.86,425.48 L143.13,425.27 L143.40,425.05 L143.68,424.84 L143.95,424.63 L144.22,424.42 L144.50,424.21 L144.77,424.00 L145.05,423.80 L145.32,423.59 L145.59,423.39 L145.87,423.18 L146.14,422.98 L146.41,422.78 L146.69,422.58 L146.96,422.39 L147.24,422.19 L147.51,422.00 L147.78,421.80 L148.06,421.61 L148.33,421.42 L148.60,421.23 L148.88,421.04 L149.15,420.85 L149.43,420.66 L149.70,420.47 L149.97,420.29 L150.25,420.10 L150.52,419.92 L150.79,419.74 L151.07,419.56 L151.34,419.38 L151.61,419.20 L151.89,419.02 L152.16,418.84 L152.44,418.67 L152.71,418.49 L152.98,418.32 L153.26,418.14 L153.53,417.97 L153.80,417.80 L154.08,417.63 L154.35,417.46 L154.63,417.29 L154.90,417.12 L155.17,416.95 L155.45,416.78 L155.72,416.62 L155.99,416.45 L156.27,416.29 L156.54,416.13 L156.82,415.96 L157.09,415.80 L157.36,415.64 L157.64,415.48 L157.91,415.32 L158.18,415.16 L158.46,415.00 L158.73,414.85 L159.00,414.69 L159.28,414.54 L159.55,414.38 L159.83,414.23 L160.10,414.07 L160.37,413.92 L160.65,413.77 L160.92,413.62 L161.19,413.47 L161.47,413.32 L161.74,413.17 L162.02,413.02 L162.29,412.87 L162.56,412.72 L162.84,412.58 L163.11,412.43 L163.38,412.29 L163.66,412.14 L163.93,412.00 L164.20,411.85 L164.48,411.71 L164.75,411.57 L165.03,411.43 L165.30,411.29 L165.57,411.15 L165.85,411.01 L166.12,410.87 L166.39,410.73 L166.67,410.59 L166.94,410.45 L167.22,410.32 L167.49,410.18 L167.76,410.04 L168.04,409.91 L168.31,409.77 L168.58,409.64 L168.86,409.51 L169.13,409.37 L169.41,409.24 L169.68,409.11 L169.95,408.98 L170.23,408.85 L170.50,408.72 L170.77,408.59 L171.05,408.46 L171.32,408.33 L171.59,408.20 L171.87,408.07 L172.14,407.94 L172.42,407.82 L172.69,407.69 L172.96,407.57 L173.24,407.44 L173.51,407.32 L173.78,407.19 L174.06,407.07 L174.33,406.94 L174.61,406.82 L174.88,406.70 L175.15,406.58 L175.43,406.45 L175.70,406.33 L175.97,406.21 L176.25,406.09 L176.52,405.97 L176.80,405.85 L177.07,405.73 L177.34,405.62 L177.62,405.50 L177.89,405.38 L178.16,405.26 L178.44,405.15 L178.71,405.03 L178.98,404.91 L179.26,404.80 L179.53,404.68 L179.81,404.57 L180.08,404.45 L180.35,404.34 L180.63,404.22 L180.90,404.11 L181.17,404.00 L181.45,403.89 L181.72,403.77 L182.00,403.66 L182.27,403.55 L182.54,403.44 L182.82,403.33 L183.09,403.22 L183.36,403.11 L183.64,403.00 L183.91,402.89 L184.19,402.78 L184.46,402.67 L184.73,402.57 L185.01,402.46 L185.28,402.35 L185.55,402.24 L185.83,402.14 L186.10,402.03 L186.37,401.93 L186.65,401.82 L186.92,401.71 L187.20,401.61 L187.47,401.50 L187.74,401.40 L188.02,401.30 L188.29,401.19 L188.56,401.09 L188.84,400.99 L189.11,400.88 L189.39,400.78 L189.66,400.68 L189.93,400.58 L190.21,400.48 L190.48,400.38 L190.75,400.28 L191.03,400.17 L191.30,400.07 L191.57,399.97 L191.85,399.88 L192.12,399.78 L192.40,399.68 L192.67,399.58 L192.94,399.48 L193.22,399.38 L193.49,399.28 L193.76,399.19 L194.04,399.09 L194.31,398.99 L194.59,398.90 L194.86,398.80 L195.13,398.70 L195.41,398.61 L195.68,398.51 L195.95,398.42 L196.23,398.32 L196.50,398.23 L196.78,398.13 L197.05,398.04 L197.32,397.95 L197.60,397.85 L197.87,397.76 L198.14,397.67 L198.42,397.57 L198.69,397.48 L198.96,397.39 L199.24,397.30 L199.51,397.20 L199.79,397.11 L200.06,397.02 L200.33,396.93 L200.61,396.84 L200.88,396.75 L201.15,396.66 L201.43,396.57 L201.70,396.48 L201.98,396.39 L202.25,396.30 L202.52,396.21 L202.80,396.12 L203.07,396.03 L203.34,395.95 L203.62,395.86 L203.89,395.77 L204.17,395.68 L204.44,395.59 L204.71,395.51 L204.99,395.42 L205.26,395.33 L205.53,395.25 L205.81,395.16 L206.08,395.07 L206.35,394.99 L206.63,394.90 L206.90,394.82 L207.18,394.73 L207.45,394.65 L207.72,394.56 L208.00,394.48 L208.27,394.39 L208.54,394.31 L208.82,394.23 L209.09,394.14 L209.37,394.06 L209.64,393.98 L209.91,393.89 L210.19,393.81 L210.46,393.73 L210.73,393.64 L211.01,393.56 L211.28,393.48 L211.56,393.40 L211.83,393.32 L212.10,393.23 L212.38,393.15 L212.65,393.07 L212.92,392.99 L213.20,392.91 L213.47,392.83 L213.74,392.75 L214.02,392.67 L214.29,392.59 L214.57,392.51 L214.84,392.43 L215.11,392.35 L215.39,392.27 L215.66,392.19 L215.93,392.11 L216.21,392.04 L216.48,391.96 L216.76,391.88 L217.03,391.80 L217.30,391.72 L217.58,391.64 L217.85,391.57 L218.12,391.49 L218.40,391.41 L218.67,391.34 L218.94,391.26 L219.22,391.18 L219.49,391.11 L219.77,391.03 L220.04,390.95 L220.31,390.88 L220.59,390.80 L220.86,390.73 L221.13,390.65 L221.41,390.57 L221.68,390.50 L221.96,390.42 L222.23,390.35 L222.50,390.27 L222.78,390.20 L223.05,390.13 L223.32,390.05 L223.60,389.98 L223.87,389.90 L224.15,389.83 L224.42,389.76 L224.69,389.68 L224.97,389.61 L225.24,389.54 L225.51,389.46 L225.79,389.39 L226.06,389.32 L226.33,389.24 L226.61,389.17 L226.88,389.10 L227.16,389.03 L227.43,388.96 L227.70,388.88 L227.98,388.81 L228.25,388.74 L228.52,388.67 L228.80,388.60 L229.07,388.53 L229.35,388.46 L229.62,388.39 L229.89,388.31 L230.17,388.24 L230.44,388.17 L230.71,388.10 L230.99,388.03 L231.26,387.96 L231.54,387.89 L231.81,387.82 L232.08,387.75 L232.36,387.68 L232.63,387.61 L232.90,387.55 L233.18,387.48 L233.45,387.41 L233.72,387.34 L234.00,387.27 L234.27,387.20 L234.55,387.13 L234.82,387.06 L235.09,387.00 L235.37,386.93 L235.64,386.86 L235.91,386.79 L236.19,386.72 L236.46,386.66 L236.74,386.59 L237.01,386.52 L237.28,386.45 L237.56,386.39 L237.83,386.32 L238.10,386.25 L238.38,386.19 L238.65,386.12 L238.93,386.05 L239.20,385.99 L239.47,385.92 L239.75,385.86 L240.02,385.79 L240.29,385.72 L240.57,385.66 L240.84,385.59 L241.11,385.53 L241.39,385.46 L241.66,385.39 L241.94,385.33 L242.21,385.26 L242.48,385.20 L242.76,385.13 L243.03,385.07 L243.30,385.00 L243.58,384.94 L243.85,384.88 L244.13,384.81 L244.40,384.75 L244.67,384.68 L244.95,384.62 L245.22,384.55 L245.49,384.49 L245.77,384.43 L246.04,384.36 L246.31,384.30 L246.59,384.24 L246.86,384.17 L247.14,384.11 L247.41,384.05 L247.68,383.98 L247.96,383.92 L248.23,383.86 L248.50,383.79 L248.78,383.73 L249.05,383.67 L249.33,383.60 L249.60,383.54 L249.87,383.48 L250.15,383.42 L250.42,383.36 L250.69,383.29 L250.97,383.23 L251.24,383.17 L251.52,383.11 L251.79,383.05 L252.06,382.98 L252.34,382.92 L252.61,382.86 L252.88,382.80 L253.16,382.74 L253.43,382.68 L253.70,382.61 L253.98,382.55 L254.25,382.49 L254.53,382.43 L254.80,382.37 L255.07,382.31 L255.35,382.25 L255.62,382.19 L255.89,382.13 L256.17,382.07 L256.44,382.01 L256.72,381.95 L256.99,381.89 L257.26,381.83 L257.54,381.77 L257.81,381.71 L258.08,381.65 L258.36,381.59 L258.63,381.53 L258.91,381.47 L259.18,381.41 L259.45,381.35 L259.73,381.29 L260.00,381.23 L260.27,381.17 L260.55,381.11 L260.82,381.05 L261.09,380.99 L261.37,380.93 L261.64,380.87 L261.92,380.81 L262.19,380.75 L262.46,380.69 L262.74,380.64 L263.01,380.58 L263.28,380.52 L263.56,380.46 L263.83,380.40 L264.11,380.34 L264.38,380.28 L264.65,380.22 L264.93,380.17 L265.20,380.11 L265.47,380.05 L265.75,379.99 L266.02,379.93 L266.30,379.88 L266.57,379.82 L266.84,379.76 L267.12,379.70 L267.39,379.64 L267.66,379.59 L267.94,379.53 L268.21,379.47 L268.48,379.41 L268.76,379.35 L269.03,379.30 L269.31,379.24 L269.58,379.18 L269.85,379.12 L270.13,379.07 L270.40,379.01 L270.67,378.95 L270.95,378.89 L271.22,378.84 L271.50,378.78 L271.77,378.72 L272.04,378.67 L272.32,378.61 L272.59,378.55 L272.86,378.49 L273.14,378.44 L273.41,378.38 L273.68,378.32 L273.96,378.27 L274.23,378.21 L274.51,378.15 L274.78,378.10 L275.05,378.04 L275.33,377.98 L275.60,377.93 L275.87,377.87 L276.15,377.81 L276.42,377.76 L276.70,377.70 L276.97,377.64 L277.24,377.59 L277.52,377.53 L277.79,377.47 L278.06,377.42 L278.34,377.36 L278.61,377.30 L278.89,377.25 L279.16,377.19 L279.43,377.13 L279.71,377.08 L279.98,377.02 L280.25,376.97 L280.53,376.91 L280.80,376.85 L281.07,376.80 L281.35,376.74 L281.62,376.68 L281.90,376.63 L282.17,376.57 L282.44,376.52 L282.72,376.46 L282.99,376.40 L283.26,376.35 L283.54,376.29 L283.81,376.24 L284.09,376.18 L284.36,376.12 L284.63,376.07 L284.91,376.01 L285.18,375.96 L285.45,375.90 L285.73,375.84 L286.00,375.79 L286.28,375.73 L286.55,375.68 L286.82,375.62 L287.10,375.56 L287.37,375.51 L287.64,375.45 L287.92,375.40 L288.19,375.34 L288.46,375.28 L288.74,375.23 L289.01,375.17 L289.29,375.11 L289.56,375.06 L289.83,375.00 L290.11,374.95 L290.38,374.89 L290.65,374.83 L290.93,374.78 L291.20,374.72 L291.48,374.67 L291.75,374.61 L292.02,374.55 L292.30,374.50 L292.57,374.44 L292.84,374.38 L293.12,374.33 L293.39,374.27 L293.67,374.22 L293.94,374.16 L294.21,374.10 L294.49,374.05 L294.76,373.99 L295.03,373.93 L295.31,373.88 L295.58,373.82 L295.85,373.76 L296.13,373.71 L296.40,373.65 L296.68,373.59 L296.95,373.54 L297.22,373.48 L297.50,373.42 L297.77,373.37 L298.04,373.31 L298.32,373.25 L298.59,373.20 L298.87,373.14 L299.14,373.08 L299.41,373.02 L299.69,372.97 L299.96,372.91 L300.23,372.85 L300.51,372.80 L300.78,372.74 L301.05,372.68 L301.33,372.62 L301.60,372.57 L301.88,372.51 L302.15,372.45 L302.42,372.39 L302.70,372.33 L302.97,372.28 L303.24,372.22 L303.52,372.16 L303.79,372.10 L304.07,372.04 L304.34,371.99 L304.61,371.93 L304.89,371.87 L305.16,371.81 L305.43,371.75 L305.71,371.69 L305.98,371.64 L306.26,371.58 L306.53,371.52 L306.80,371.46 L307.08,371.40 L307.35,371.34 L307.62,371.28 L307.90,371.22 L308.17,371.16 L308.44,371.10 L308.72,371.04 L308.99,370.98 L309.27,370.92 L309.54,370.86 L309.81,370.80 L310.09,370.74 L310.36,370.68 L310.63,370.62 L310.91,370.56 L311.18,370.50 L311.46,370.44 L311.73,370.38 L312.00,370.32 L312.28,370.26 L312.55,370.20 L312.82,370.13 L313.10,370.07 L313.37,370.01 L313.65,369.95 L313.92,369.89 L314.19,369.82 L314.47,369.76 L314.74,369.70 L315.01,369.64 L315.29,369.57 L315.56,369.51 L315.83,369.45 L316.11,369.38 L316.38,369.32 L316.66,369.26 L316.93,369.19 L317.20,369.13 L317.48,369.07 L317.75,369.00 L318.02,368.94 L318.30,368.87 L318.57,368.81 L318.85,368.74 L319.12,368.68 L319.39,368.61 L319.67,368.55 L319.94,368.48 L320.21,368.41 L320.49,368.35 L320.76,368.28 L321.04,368.21 L321.31,368.15 L321.58,368.08 L321.86,368.01 L322.13,367.94 L322.40,367.88 L322.68,367.81 L322.95,367.74 L323.22,367.67 L323.50,367.60 L323.77,367.53 L324.05,367.46 L324.32,367.39 L324.59,367.32 L324.87,367.25 L325.14,367.18 L325.41,367.11 L325.69,367.04 L325.96,366.97 L326.24,366.90 L326.51,366.82 L326.78,366.75 L327.06,366.68 L327.33,366.60 L327.60,366.53 L327.88,366.46 L328.15,366.38 L328.42,366.31 L328.70,366.23 L328.97,366.16 L329.25,366.08 L329.52,366.01 L329.79,365.93 L330.07,365.85 L330.34,365.77 L330.61,365.70 L330.89,365.62 L331.16,365.54 L331.44,365.46 L331.71,365.38 L331.98,365.30 L332.26,365.22 L332.53,365.14 L332.80,365.06 L333.08,364.98 L333.35,364.89 L333.63,364.81 L333.90,364.73 L334.17,364.64 L334.45,364.56 L334.72,364.47 L334.99,364.39 L335.27,364.30 L335.54,364.21 L335.81,364.13 L336.09,364.04 L336.36,363.95 L336.64,363.86 L336.91,363.77 L337.18,363.68 L337.46,363.59 L337.73,363.49 L338.00,363.40 L338.28,363.31 L338.55,363.21 L338.83,363.12 L339.10,363.02 L339.37,362.93 L339.65,362.83 L339.92,362.73 L340.19,362.63 L340.47,362.53 L340.74,362.43 L341.02,362.33 L341.29,362.22 L341.56,362.12 L341.84,362.02 L342.11,361.91 L342.38,361.80 L342.66,361.69 L342.93,361.59 L343.20,361.47 L343.48,361.36 L343.75,361.25 L344.03,361.14 L344.30,361.02 L344.57,360.91 L344.85,360.79 L345.12,360.67 L345.39,360.55 L345.67,360.43 L345.94,360.30 L346.22,360.18 L346.49,360.05 L346.76,359.92 L347.04,359.79 L347.31,359.66 L347.58,359.53 L347.86,359.39 L348.13,359.26 L348.41,359.12 L348.68,358.98 L348.95,358.83 L349.23,358.69 L349.50,358.54 L349.77,358.39 L350.05,358.24 L350.32,358.08 L350.59,357.93 L350.87,357.77 L351.14,357.60 L351.42,357.44 L351.69,357.27 L351.96,357.10 L352.24,356.92 L352.51,356.75 L352.78,356.56 L353.06,356.38 L353.33,356.19 L353.61,356.00 L353.88,355.80 L354.15,355.60 L354.43,355.39 L354.70,355.18 L354.97,354.96 L355.25,354.74 L355.52,354.51 L355.79,354.28 L356.07,354.04 L356.34,353.80 L356.62,353.54 L356.89,353.28 L357.16,353.01 L357.44,352.74 L357.71,352.45 L357.98,352.15 L358.26,351.85 L358.53,351.53 L359.63,350.13 L360.72,348.45 L361.82,346.36 L362.91,343.58 L364.01,339.42 L365.10,330.77 L366.20,328.99 L367.29,338.79 L368.39,343.17 L369.48,346.02 L370.57,348.15 L371.67,349.83 L372.76,351.24 L373.04,351.56 L373.31,351.86 L373.59,352.16 L373.86,352.44 L374.13,352.71 L374.41,352.98 L374.68,353.24 L374.95,353.49 L375.23,353.73 L375.50,353.97 L375.78,354.20 L376.05,354.42 L376.32,354.64 L376.60,354.85 L376.87,355.06 L377.14,355.26 L377.42,355.46 L377.69,355.66 L377.96,355.84 L378.24,356.03 L378.51,356.21 L378.79,356.39 L379.06,356.56 L379.33,356.73 L379.61,356.90 L379.88,357.06 L380.15,357.22 L380.43,357.38 L380.70,357.54 L380.98,357.69 L381.25,357.84 L381.52,357.99 L381.80,358.13 L382.07,358.27 L382.34,358.41 L382.62,358.55 L382.89,358.69 L383.16,358.82 L383.44,358.95 L383.71,359.08 L383.99,359.21 L384.26,359.34 L384.53,359.46 L384.81,359.59 L385.08,359.71 L385.35,359.83 L385.63,359.94 L385.90,360.06 L386.18,360.18 L386.45,360.29 L386.72,360.40 L387.00,360.51 L387.27,360.62 L387.54,360.73 L387.82,360.84 L388.09,360.94 L388.37,361.05 L388.64,361.15 L388.91,361.26 L389.19,361.36 L389.46,361.46 L389.73,361.56 L390.01,361.65 L390.28,361.75 L390.55,361.85 L390.83,361.94 L391.10,362.04 L391.38,362.13 L391.65,362.23 L391.92,362.32 L392.20,362.41 L392.47,362.50 L392.74,362.59 L393.02,362.68 L393.29,362.76 L393.57,362.85 L393.84,362.94 L394.11,363.02 L394.39,363.11 L394.66,363.19 L394.93,363.28 L395.21,363.36 L395.48,363.44 L395.76,363.52 L396.03,363.61 L396.30,363.69 L396.58,363.77 L396.85,363.85 L397.12,363.92 L397.40,364.00 L397.67,364.08 L397.94,364.16 L398.22,364.23 L398.49,364.31 L398.77,364.39 L399.04,364.46 L399.31,364.54 L399.59,364.61 L399.86,364.68 L400.13,364.76 L400.41,364.83 L400.68,364.90 L400.96,364.97 L401.23,365.05 L401.50,365.12 L401.78,365.19 L402.05,365.26 L402.32,365.33 L402.60,365.40 L402.87,365.47 L403.15,365.54 L403.42,365.60 L403.69,365.67 L403.97,365.74 L404.24,365.81 L404.51,365.87 L404.79,365.94 L405.06,366.01 L405.33,366.07 L405.61,366.14 L405.88,366.20 L406.16,366.27 L406.43,366.33 L406.70,366.40 L406.98,366.46 L407.25,366.53 L407.52,366.59 L407.80,366.65 L408.07,366.72 L408.35,366.78 L408.62,366.84 L408.89,366.90 L409.17,366.96 L409.44,367.03 L409.71,367.09 L409.99,367.15 L410.26,367.21 L410.53,367.27 L410.81,367.33 L411.08,367.39 L411.36,367.45 L411.63,367.51 L411.90,367.57 L412.18,367.63 L412.45,367.69 L412.72,367.75 L413.00,367.81 L413.27,367.87 L413.55,367.92 L413.82,367.98 L414.09,368.04 L414.37,368.10 L414.64,368.16 L414.91,368.21 L415.19,368.27 L415.46,368.33 L415.74,368.38 L416.01,368.44 L416.28,368.50 L416.56,368.55 L416.83,368.61 L417.10,368.67 L417.38,368.72 L417.65,368.78 L417.92,368.83 L418.20,368.89 L418.47,368.94 L418.75,369.00 L419.02,369.05 L419.29,369.11 L419.57,369.16 L419.84,369.22 L420.11,369.27 L420.39,369.33 L420.66,369.38 L420.94,369.44 L421.21,369.49 L421.48,369.54 L421.76,369.60 L422.03,369.65 L422.30,369.71 L422.58,369.76 L422.85,369.81 L423.13,369.87 L423.40,369.92 L423.67,369.97 L423.95,370.02 L424.22,370.08 L424.49,370.13 L424.77,370.18 L425.04,370.23 L425.31,370.29 L425.59,370.34 L425.86,370.39 L426.14,370.44 L426.41,370.50 L426.68,370.55 L426.96,370.60 L427.23,370.65 L427.50,370.70 L427.78,370.75 L428.05,370.81 L428.33,370.86 L428.60,370.91 L428.87,370.96 L429.15,371.01 L429.42,371.06 L429.69,371.11 L429.97,371.16 L430.24,371.22 L430.52,371.27 L430.79,371.32 L431.06,371.37 L431.34,371.42 L431.61,371.47 L431.88,371.52 L432.16,371.57 L432.43,371.62 L432.70,371.67 L432.98,371.72 L433.25,371.77 L433.53,371.82 L433.80,371.87 L434.07,371.92 L434.35,371.97 L434.62,372.02 L434.89,372.07 L435.17,372.12 L435.44,372.17 L435.72,372.22 L435.99,372.27 L436.26,372.32 L436.54,372.37 L436.81,372.42 L437.08,372.47 L437.36,372.52 L437.63,372.57 L437.90,372.62 L438.18,372.67 L438.45,372.72 L438.73,372.77 L439.00,372.82 L439.27,372.87 L439.55,372.92 L439.82,372.97 L440.09,373.02 L440.37,373.07 L440.64,373.12 L440.92,373.16 L441.19,373.21 L441.46,373.26 L441.74,373.31 L442.01,373.36 L442.28,373.41 L442.56,373.46 L442.83,373.51 L443.11,373.56 L443.38,373.61 L443.65,373.66 L443.93,373.71 L444.20,373.75 L444.47,373.80 L444.75,373.85 L445.02,373.90 L445.29,373.95 L445.57,374.00 L445.84,374.05 L446.12,374.10 L446.39,374.15 L446.66,374.20 L446.94,374.24 L447.21,374.29 L447.48,374.34 L447.76,374.39 L448.03,374.44 L448.31,374.49 L448.58,374.54 L448.85,374.59 L449.13,374.64 L449.40,374.69 L449.67,374.74 L449.95,374.78 L450.22,374.83 L450.50,374.88 L450.77,374.93 L451.04,374.98 L451.32,375.03 L451.59,375.08 L451.86,375.13 L452.14,375.18 L452.41,375.23 L452.68,375.27 L452.96,375.32 L453.23,375.37 L453.51,375.42 L453.78,375.47 L454.05,375.52 L454.33,375.57 L454.60,375.62 L454.87,375.67 L455.15,375.72 L455.42,375.77 L455.70,375.82 L455.97,375.87 L456.24,375.91 L456.52,375.96 L456.79,376.01 L457.06,376.06 L457.34,376.11 L457.61,376.16 L457.89,376.21 L458.16,376.26 L458.43,376.31 L458.71,376.36 L458.98,376.41 L459.25,376.46 L459.53,376.51 L459.80,376.56 L460.07,376.61 L460.35,376.66 L460.62,376.71 L460.90,376.76 L461.17,376.81 L461.44,376.86 L461.72,376.91 L461.99,376.96 L462.26,377.01 L462.54,377.06 L462.81,377.11 L463.09,377.16 L463.36,377.21 L463.63,377.26 L463.91,377.31 L464.18,377.36 L464.45,377.41 L464.73,377.46 L465.00,377.51 L465.27,377.56 L465.55,377.61 L465.82,377.66 L466.10,377.71 L466.37,377.76 L466.64,377.81 L466.92,377.86 L467.19,377.91 L467.46,377.96 L467.74,378.01 L468.01,378.06 L468.29,378.11 L468.56,378.16 L468.83,378.22 L469.11,378.27 L469.38,378.32 L469.65,378.37 L469.93,378.42 L470.20,378.47 L470.48,378.52 L470.75,378.57 L471.02,378.62 L471.30,378.68 L471.57,378.73 L471.84,378.78 L472.12,378.83 L472.39,378.88 L472.66,378.93 L472.94,378.98 L473.21,379.04 L473.49,379.09 L473.76,379.14 L474.03,379.19 L474.31,379.24 L474.58,379.30 L474.85,379.35 L475.13,379.40 L475.40,379.45 L475.68,379.50 L475.95,379.56 L476.22,379.61 L476.50,379.66 L476.77,379.71 L477.04,379.77 L477.32,379.82 L477.59,379.87 L477.87,379.92 L478.14,379.98 L478.41,380.03 L478.69,380.08 L478.96,380.14 L479.23,380.19 L479.51,380.24 L479.78,380.29 L480.05,380.35 L480.33,380.40 L480.60,380.45 L480.88,380.51 L481.15,380.56 L481.42,380.62 L481.70,380.67 L481.97,380.72 L482.24,380.78 L482.52,380.83 L482.79,380.88 L483.07,380.94 L483.34,380.99 L483.61,381.05 L483.89,381.10 L484.16,381.15 L484.43,381.21 L484.71,381.26 L484.98,381.32 L485.26,381.37 L485.53,381.43 L485.80,381.48 L486.08,381.54 L486.35,381.59 L486.62,381.65 L486.90,381.70 L487.17,381.76 L487.44,381.81 L487.72,381.87 L487.99,381.92 L488.27,381.98 L488.54,382.03 L488.81,382.09 L489.09,382.15 L489.36,382.20 L489.63,382.26 L489.91,382.31 L490.18,382.37 L490.46,382.43 L490.73,382.48 L491.00,382.54 L491.28,382.59 L491.55,382.65 L491.82,382.71 L492.10,382.76 L492.37,382.82 L492.64,382.88 L492.92,382.93 L493.19,382.99 L493.47,383.05 L493.74,383.11 L494.01,383.16 L494.29,383.22 L494.56,383.28 L494.83,383.34 L495.11,383.39 L495.38,383.45 L495.66,383.51 L495.93,383.57 L496.20,383.62 L496.48,383.68 L496.75,383.74 L497.02,383.80 L497.30,383.86 L497.57,383.92 L497.85,383.97 L498.12,384.03 L498.39,384.09 L498.67,384.15 L498.94,384.21 L499.21,384.27 L499.49,384.33 L499.76,384.39 L500.03,384.45 L500.31,384.51 L500.58,384.57 L500.86,384.63 L501.13,384.69 L501.40,384.75 L501.68,384.81 L501.95,384.87 L502.22,384.93 L502.50,384.99 L502.77,385.05 L503.05,385.11 L503.32,385.17 L503.59,385.23 L503.87,385.29 L504.14,385.35 L504.41,385.41 L504.69,385.47 L504.96,385.54 L505.24,385.60 L505.51,385.66 L505.78,385.72 L506.06,385.78 L506.33,385.85 L506.60,385.91 L506.88,385.97 L507.15,386.03 L507.42,386.09 L507.70,386.16 L507.97,386.22 L508.25,386.28 L508.52,386.35 L508.79,386.41 L509.07,386.47 L509.34,386.54 L509.61,386.60 L509.89,386.66 L510.16,386.73 L510.44,386.79 L510.71,386.85 L510.98,386.92 L511.26,386.98 L511.53,387.05 L511.80,387.11 L512.08,387.18 L512.35,387.24 L512.63,387.30 L512.90,387.37 L513.17,387.44 L513.45,387.50 L513.72,387.57 L513.99,387.63 L514.27,387.70 L514.54,387.76 L514.81,387.83 L515.09,387.89 L515.36,387.96 L515.64,388.03 L515.91,388.09 L516.18,388.16 L516.46,388.23 L516.73,388.29 L517.00,388.36 L517.28,388.43 L517.55,388.50 L517.83,388.56 L518.10,388.63 L518.37,388.70 L518.65,388.77 L518.92,388.83 L519.19,388.90 L519.47,388.97 L519.74,389.04 L520.01,389.11 L520.29,389.18 L520.56,389.25 L520.84,389.31 L521.11,389.38 L521.38,389.45 L521.66,389.52 L521.93,389.59 L522.20,389.66 L522.48,389.73 L522.75,389.80 L523.03,389.87 L523.30,389.94 L523.57,390.01 L523.85,390.09 L524.12,390.16 L524.39,390.23 L524.67,390.30 L524.94,390.37 L525.22,390.44 L525.49,390.51 L525.76,390.59 L526.04,390.66 L526.31,390.73 L526.58,390.80 L526.86,390.88 L527.13,390.95 L527.40,391.02 L527.68,391.09 L527.95,391.17 L528.23,391.24 L528.50,391.31 L528.77,391.39 L529.05,391.46 L529.32,391.54 L529.59,391.61 L529.87,391.69 L530.14,391.76 L530.42,391.83 L530.69,391.91 L530.96,391.99 L531.24,392.06 L531.51,392.14 L531.78,392.21 L532.06,392.29 L532.33,392.36 L532.61,392.44 L532.88,392.52 L533.15,392.59 L533.43,392.67 L533.70,392.75 L533.97,392.83 L534.25,392.90 L534.52,392.98 L534.79,393.06 L535.07,393.14 L535.34,393.21 L535.62,393.29 L535.89,393.37 L536.16,393.45 L536.44,393.53 L536.71,393.61 L536.98,393.69 L537.26,393.77 L537.53,393.85 L537.81,393.93 L538.08,394.01 L538.35,394.09 L538.63,394.17 L538.90,394.25 L539.17,394.33 L539.45,394.41 L539.72,394.50 L540.00,394.58 L540.27,394.66 L540.54,394.74 L540.82,394.82 L541.09,394.91 L541.36,394.99 L541.64,395.07 L541.91,395.16 L542.18,395.24 L542.46,395.32 L542.73,395.41 L543.01,395.49 L543.28,395.58 L543.55,395.66 L543.83,395.75 L544.10,395.83 L544.37,395.92 L544.65,396.00 L544.92,396.09 L545.20,396.17 L545.47,396.26 L545.74,396.35 L546.02,396.43 L546.29,396.52 L546.56,396.61 L546.84,396.70 L547.11,396.78 L547.38,396.87 L547.66,396.96 L547.93,397.05 L548.21,397.14 L548.48,397.23 L548.75,397.31 L549.03,397.40 L549.30,397.49 L549.57,397.58 L549.85,397.67 L550.12,397.77 L550.40,397.86 L550.67,397.95 L550.94,398.04 L551.22,398.13 L551.49,398.22 L551.76,398.31 L552.04,398.41 L552.31,398.50 L552.59,398.59 L552.86,398.69 L553.13,398.78 L553.41,398.87 L553.68,398.97 L553.95,399.06 L554.23,399.16 L554.50,399.25 L554.77,399.35 L555.05,399.44 L555.32,399.54 L555.60,399.64 L555.87,399.73 L556.14,399.83 L556.42,399.93 L556.69,400.02 L556.96,400.12 L557.24,400.22 L557.51,400.32 L557.79,400.42 L558.06,400.51 L558.33,400.61 L558.61,400.71 L558.88,400.81 L559.15,400.91 L559.43,401.01 L559.70,401.11 L559.98,401.22 L560.25,401.32 L560.52,401.42 L560.80,401.52 L561.07,401.62 L561.34,401.73 L561.62,401.83 L561.89,401.93 L562.16,402.04 L562.44,402.14 L562.71,402.25 L562.99,402.35 L563.26,402.46 L563.53,402.56 L563.81,402.67 L564.08,402.77 L564.35,402.88 L564.63,402.99 L564.90,403.10 L565.18,403.20 L565.45,403.31 L565.72,403.42 L566.00,403.53 L566.27,403.64 L566.54,403.75 L566.82,403.86 L567.09,403.97 L567.37,404.08 L567.64,404.19 L567.91,404.30 L568.19,404.41 L568.46,404.53 L568.73,404.64 L569.01,404.75 L569.28,404.86 L569.55,404.98 L569.83,405.09 L570.10,405.21 L570.38,405.32 L570.65,405.44 L570.92,405.55 L571.20,405.67 L571.47,405.79 L571.74,405.91 L572.02,406.02 L572.29,406.14 L572.57,406.26 L572.84,406.38 L573.11,406.50 L573.39,406.62 L573.66,406.74 L573.93,406.86 L574.21,406.98 L574.48,407.10 L574.75,407.23 L575.03,407.35 L575.30,407.47 L575.58,407.60 L575.85,407.72 L576.12,407.84 L576.40,407.97 L576.67,408.10 L576.94,408.22 L577.22,408.35 L577.49,408.48 L577.77,408.60 L578.04,408.73 L578.31,408.86 L578.59,408.99 L578.86,409.12 L579.13,409.25 L579.41,409.38 L579.68,409.51 L579.96,409.64 L580.23,409.78 L580.50,409.91 L580.78,410.04 L581.05,410.18 L581.32,410.31 L581.60,410.45 L581.87,410.58 L582.14,410.72 L582.42,410.86 L582.69,410.99 L582.97,411.13 L583.24,411.27 L583.51,411.41 L583.79,411.55 L584.06,411.69 L584.33,411.83 L584.61,411.97 L584.88,412.12 L585.16,412.26 L585.43,412.40 L585.70,412.55 L585.98,412.69 L586.25,412.84 L586.52,412.98 L586.80,413.13 L587.07,413.28 L587.35,413.43 L587.62,413.58 L587.89,413.73 L588.17,413.88 L588.44,414.03 L588.71,414.18 L588.99,414.33 L589.26,414.49 L589.53,414.64 L589.81,414.79 L590.08,414.95 L590.36,415.11 L590.63,415.26 L590.90,415.42 L591.18,415.58 L591.45,415.74 L591.72,415.90 L592.00,416.06 L592.27,416.22 L592.55,416.38 L592.82,416.55 L593.09,416.71 L593.37,416.88 L593.64,417.04 L593.91,417.21 L594.19,417.38 L594.46,417.54 L594.74,417.71 L595.01,417.88 L595.28,418.06 L595.56,418.23 L595.83,418.40 L596.10,418.57 L596.38,418.75 L596.65,418.92 L596.92,419.10 L597.20,419.28 L597.47,419.46 L597.75,419.64 L598.02,419.82 L598.29,420.00 L598.57,420.18 L598.84,420.37 L599.11,420.55 L599.39,420.74 L599.66,420.92 L599.94,421.11 L600.21,421.30 L600.48,421.49 L600.76,421.68 L601.03,421.87 L601.30,422.07 L601.58,422.26 L601.85,422.46 L602.12,422.65 L602.40,422.85 L602.67,423.05 L602.95,423.25 L603.22,423.45 L603.49,423.66 L603.77,423.86 L604.04,424.07 L604.31,424.27 L604.59,424.48 L604.86,424.69 L605.14,424.90 L605.41,425.11 L605.68,425.33 L605.96,425.54 L606.23,425.76 L606.50,425.98 L606.78,426.20 L607.05,426.42 L607.33,426.64 L607.60,426.86 L607.87,427.09 L608.15,427.31 L608.42,427.54 L608.69,427.77 L608.97,428.00 L609.24,428.24 L609.51,428.47 L609.79,428.71 L610.06,428.95 L610.34,429.19 L610.61,429.43 L610.88,429.67 L611.16,429.92 L611.43,430.17 L611.70,430.42 L611.98,430.67 L612.25,430.92 L612.53,431.18 L612.80,431.43 L613.07,431.69 L613.35,431.95 L613.62,432.22 L613.89,432.48 L614.17,432.75 L614.44,433.02 L614.72,433.29 L614.99,433.56 L615.26,433.84 L615.54,434.12 L615.81,434.40 L616.08,434.68 L616.36,434.97 L616.63,435.26 L616.90,435.55 L617.18,435.84 L617.45,436.14 L617.73,436.44 L618.00,436.74 L618.27,437.04 L618.55,437.35 L618.82,437.66 L619.09,437.97 L619.37,438.29 L619.64,438.61 L619.92,438.93 L620.19,439.25 L620.46,439.58 L620.74,439.91 L621.01,440.25 L621.28,440.59 L621.56,440.93 L621.83,441.28 L622.11,441.62 L622.38,441.98 L622.65,442.33 L622.93,442.69 L623.20,443.06 L623.47,443.43 L623.75,443.80 L624.02,444.18 L624.29,444.56 L624.57,444.94 L624.84,445.33 L625.12,445.73 L625.39,446.13 L625.66,446.53 L625.94,446.94 L626.21,447.36 L626.48,447.78 L626.76,448.20 L627.03,448.63 L627.31,449.07 L627.58,449.51 L627.85,449.96 L628.13,450.41 L628.40,450.87 L628.67,451.34 L628.95,451.82 L629.22,452.30 L629.49,452.78 L629.77,453.28 L630.04,453.78 L630.32,454.29 L630.59,454.81 L630.86,455.33 L631.14,455.87 L631.41,456.41 L631.68,456.96 L631.96,457.52 L632.23,458.10 L632.51,458.68 L632.78,459.27 L633.05,459.87 L633.33,460.48 L633.60,461.11 L633.87,461.74 L634.15,462.39 L634.42,463.05 L634.70,463.73 L634.97,464.42 L635.24,465.12 L635.52,465.84 L635.79,466.57 L636.06,467.33 L636.34,468.09 L636.44,468.40" fill="none" stroke="#333" stroke-width="1.3" stroke-linejoin="round" stroke-linecap="round"/>
<path d="M100.0,7.0 H648.1 V468.40 H100.0 Z M100.0,161.00 H648.1 M100.0,314.50 H648.1" fill="none" stroke="#333" stroke-width="1.5"/>
<path d="M100.0,26.25 h5.5 M648.1,26.25 h-5.5 M100.0,45.50 h10.8 M648.1,45.50 h-10.8 M100.0,64.75 h5.5 M648.1,64.75 h-5.5 M100.0,84.00 h10.8 M648.1,84.00 h-10.8 M100.0,103.25 h5.5 M648.1,103.25 h-5.5 M100.0,122.50 h10.8 M648.1,122.50 h-10.8 M100.0,141.75 h5.5 M648.1,141.75 h-5.5 M237.03,7.00 v3 M237.03,161.00 v-3 M374.05,7.00 v3 M374.05,161.00 v-3 M511.08,7.00 v3 M511.08,161.00 v-3 M100.0,180.19 h5.5 M648.1,180.19 h-5.5 M100.0,199.38 h10.8 M648.1,199.38 h-10.8 M100.0,218.56 h5.5 M648.1,218.56 h-5.5 M100.0,237.75 h10.8 M648.1,237.75 h-10.8 M100.0,256.94 h5.5 M648.1,256.94 h-5.5 M100.0,276.12 h10.8 M648.1,276.12 h-10.8 M100.0,295.31 h5.5 M648.1,295.31 h-5.5 M237.03,161.00 v3 M237.03,314.50 v-3 M374.05,161.00 v3 M374.05,314.50 v-3 M511.08,161.00 v3 M511.08,314.50 v-3 M100.0,333.74 h5.5 M648.1,333.74 h-5.5 M100.0,352.98 h10.8 M648.1,352.98 h-10.8 M100.0,372.21 h5.5 M648.1,372.21 h-5.5 M100.0,391.45 h10.8 M648.1,391.45 h-10.8 M100.0,410.69 h5.5 M648.1,410.69 h-5.5 M100.0,429.92 h10.8 M648.1,429.92 h-10.8 M100.0,449.16 h5.5 M648.1,449.16 h-5.5 M237.03,314.50 v3 M237.03,468.40 v-3 M374.05,314.50 v3 M374.05,468.40 v-3 M511.08,314.50 v3 M511.08,468.40 v-3" fill="none" stroke="#222" stroke-width="1.2"/>
<g fill="#000" stroke="#fff" stroke-width="0.12">
<text transform="translate(60.25,24.00) scale(0.850,1)" x="-6.86" y="0" font-size="26">1</text>
<text transform="translate(75.40,24.00) scale(1.000,1)" x="-6.50" y="0" font-size="26">0</text>
<text transform="translate(87.55,12.20) scale(1.150,1)" x="-3.79" y="0" font-size="15.5" stroke-width="0.0">2</text>
<text transform="translate(60.25,55.70) scale(0.850,1)" x="-6.86" y="0" font-size="26">1</text>
<text transform="translate(75.40,55.70) scale(1.000,1)" x="-6.50" y="0" font-size="26">0</text>
<text transform="translate(87.55,43.90) scale(1.150,1)" x="-3.88" y="0" font-size="15.5" stroke-width="0.0">0</text>
<text transform="translate(47.75,94.20) scale(0.850,1)" x="-6.86" y="0" font-size="26">1</text>
<text transform="translate(62.90,94.20) scale(1.000,1)" x="-6.50" y="0" font-size="26">0</text>
<text transform="translate(87.55,82.40) scale(1.150,1)" x="-3.79" y="0" font-size="15.5" stroke-width="0.0">2</text>
<text transform="translate(76.75,83.29) scale(1.092,1)" x="-4.38" y="0" font-size="15.5" stroke-width="0.0">−</text>
<text transform="translate(47.75,132.70) scale(0.850,1)" x="-6.86" y="0" font-size="26">1</text>
<text transform="translate(62.90,132.70) scale(1.000,1)" x="-6.50" y="0" font-size="26">0</text>
<text transform="translate(87.55,120.90) scale(1.150,1)" x="-3.91" y="0" font-size="15.5" stroke-width="0.0">4</text>
<text transform="translate(76.75,121.79) scale(1.092,1)" x="-4.38" y="0" font-size="15.5" stroke-width="0.0">−</text>
<text transform="translate(47.75,161.80) scale(0.850,1)" x="-6.86" y="0" font-size="26">1</text>
<text transform="translate(62.90,161.80) scale(1.000,1)" x="-6.50" y="0" font-size="26">0</text>
<text transform="translate(87.55,150.00) scale(1.150,1)" x="-3.98" y="0" font-size="15.5" stroke-width="0.0">6</text>
<text transform="translate(76.75,150.89) scale(1.092,1)" x="-4.38" y="0" font-size="15.5" stroke-width="0.0">−</text>
<text transform="translate(60.25,178.00) scale(0.850,1)" x="-6.86" y="0" font-size="26">1</text>
<text transform="translate(75.40,178.00) scale(1.000,1)" x="-6.50" y="0" font-size="26">0</text>
<text transform="translate(87.55,166.20) scale(1.150,1)" x="-3.79" y="0" font-size="15.5" stroke-width="0.0">2</text>
<text transform="translate(60.25,209.57) scale(0.850,1)" x="-6.86" y="0" font-size="26">1</text>
<text transform="translate(75.40,209.57) scale(1.000,1)" x="-6.50" y="0" font-size="26">0</text>
<text transform="translate(87.55,197.77) scale(1.150,1)" x="-3.88" y="0" font-size="15.5" stroke-width="0.0">0</text>
<text transform="translate(47.75,247.95) scale(0.850,1)" x="-6.86" y="0" font-size="26">1</text>
<text transform="translate(62.90,247.95) scale(1.000,1)" x="-6.50" y="0" font-size="26">0</text>
<text transform="translate(87.55,236.15) scale(1.150,1)" x="-3.79" y="0" font-size="15.5" stroke-width="0.0">2</text>
<text transform="translate(76.75,237.04) scale(1.092,1)" x="-4.38" y="0" font-size="15.5" stroke-width="0.0">−</text>
<text transform="translate(47.75,286.32) scale(0.850,1)" x="-6.86" y="0" font-size="26">1</text>
<text transform="translate(62.90,286.32) scale(1.000,1)" x="-6.50" y="0" font-size="26">0</text>
<text transform="translate(87.55,274.52) scale(1.150,1)" x="-3.91" y="0" font-size="15.5" stroke-width="0.0">4</text>
<text transform="translate(76.75,275.42) scale(1.092,1)" x="-4.38" y="0" font-size="15.5" stroke-width="0.0">−</text>
<text transform="translate(47.75,315.30) scale(0.850,1)" x="-6.86" y="0" font-size="26">1</text>
<text transform="translate(62.90,315.30) scale(1.000,1)" x="-6.50" y="0" font-size="26">0</text>
<text transform="translate(87.55,303.50) scale(1.150,1)" x="-3.98" y="0" font-size="15.5" stroke-width="0.0">6</text>
<text transform="translate(76.75,304.39) scale(1.092,1)" x="-4.38" y="0" font-size="15.5" stroke-width="0.0">−</text>
<text transform="translate(60.25,331.50) scale(0.850,1)" x="-6.86" y="0" font-size="26">1</text>
<text transform="translate(75.40,331.50) scale(1.000,1)" x="-6.50" y="0" font-size="26">0</text>
<text transform="translate(87.55,319.70) scale(1.150,1)" x="-3.79" y="0" font-size="15.5" stroke-width="0.0">2</text>
<text transform="translate(60.25,363.18) scale(0.850,1)" x="-6.86" y="0" font-size="26">1</text>
<text transform="translate(75.40,363.18) scale(1.000,1)" x="-6.50" y="0" font-size="26">0</text>
<text transform="translate(87.55,351.38) scale(1.150,1)" x="-3.88" y="0" font-size="15.5" stroke-width="0.0">0</text>
<text transform="translate(47.75,401.65) scale(0.850,1)" x="-6.86" y="0" font-size="26">1</text>
<text transform="translate(62.90,401.65) scale(1.000,1)" x="-6.50" y="0" font-size="26">0</text>
<text transform="translate(87.55,389.85) scale(1.150,1)" x="-3.79" y="0" font-size="15.5" stroke-width="0.0">2</text>
<text transform="translate(76.75,390.74) scale(1.092,1)" x="-4.38" y="0" font-size="15.5" stroke-width="0.0">−</text>
<text transform="translate(47.75,440.12) scale(0.850,1)" x="-6.86" y="0" font-size="26">1</text>
<text transform="translate(62.90,440.12) scale(1.000,1)" x="-6.50" y="0" font-size="26">0</text>
<text transform="translate(87.55,428.32) scale(1.150,1)" x="-3.91" y="0" font-size="15.5" stroke-width="0.0">4</text>
<text transform="translate(76.75,429.22) scale(1.092,1)" x="-4.38" y="0" font-size="15.5" stroke-width="0.0">−</text>
<text transform="translate(47.75,469.20) scale(0.850,1)" x="-6.86" y="0" font-size="26">1</text>
<text transform="translate(62.90,469.20) scale(1.000,1)" x="-6.50" y="0" font-size="26">0</text>
<text transform="translate(87.55,457.40) scale(1.150,1)" x="-3.98" y="0" font-size="15.5" stroke-width="0.0">6</text>
<text transform="translate(76.75,458.29) scale(1.092,1)" x="-4.38" y="0" font-size="15.5" stroke-width="0.0">−</text>
<text transform="translate(83.85,504.50) scale(1.100,1)" x="-7.34" y="0" font-size="26">−</text>
<text transform="translate(101.10,503.00) scale(1.050,1)" x="-6.39" y="0" font-size="26">9</text>
<text transform="translate(117.20,503.00) scale(1.000,1)" x="-6.50" y="0" font-size="26">0</text>
<text transform="translate(220.75,504.50) scale(1.100,1)" x="-7.34" y="0" font-size="26">−</text>
<text transform="translate(238.45,503.00) scale(1.000,1)" x="-6.55" y="0" font-size="26">4</text>
<text transform="translate(253.55,503.00) scale(1.000,1)" x="-6.75" y="0" font-size="26">5</text>
<text transform="translate(373.25,503.00) scale(1.000,1)" x="-6.50" y="0" font-size="26">0</text>
<text transform="translate(502.50,503.00) scale(1.000,1)" x="-6.55" y="0" font-size="26">4</text>
<text transform="translate(517.65,503.00) scale(1.000,1)" x="-6.75" y="0" font-size="26">5</text>
<text transform="translate(640.10,503.00) scale(1.050,1)" x="-6.39" y="0" font-size="26">9</text>
<text transform="translate(654.75,503.00) scale(1.000,1)" x="-6.50" y="0" font-size="26">0</text>
<text transform="translate(306.80,533.00) scale(1.100,1)" x="-6.20" y="0" font-size="24.0" font-style="italic">θ</text>
<text transform="translate(331.60,532.50) scale(1.000,1)" x="-4.74" y="0" font-size="27.5" stroke-width="0.55">(</text>
<text transform="translate(338.90,533.00) scale(1.2000,1)" x="-0.87 12.49 24.50 37.87 47.19 59.20 71.21" y="0" font-size="24.2" stroke-width="0.15">degrees</text>
<text transform="translate(440.80,532.50) scale(1.000,1)" x="-4.42" y="0" font-size="27.5" stroke-width="0.55">)</text>
<text transform="translate(19.60,378.30) rotate(-90) scale(0.95,1)" x="-8.41" y="0" font-size="26" stroke-width="0.3">B</text>
<text transform="translate(19.60,367.30) rotate(-90) scale(1.1000,1)" x="-0.52 9.93 18.94 33.73 48.51 57.53 72.31 85.64 97.55" y="0" font-size="26" stroke-width="0.22">rightness</text>
<text transform="translate(19.60,224.80) rotate(-90) scale(1.1000,1)" x="-0.60 13.87 28.35 38.47 60.17 73.18 81.87 90.57 103.58 116.59" y="0" font-size="26" stroke-width="0.22">normalized</text>
<text transform="translate(19.90,230.60) rotate(-90)" x="-4.71" y="0" font-size="27.3" stroke-width="0.55">(</text>
<text transform="translate(19.90,76.10) rotate(-90)" x="-4.39" y="0" font-size="27.3" stroke-width="0.55">)</text>
<text transform="translate(453.10,34.30) scale(0.950,1)" x="-6.25" y="0" font-size="25">v</text>
<text transform="translate(461.40,40.50) scale(1.1200,1)" x="-0.59 7.26 12.53 21.25 28.26 36.10 43.11" y="0" font-size="15.5" stroke="#000" stroke-width="0.15">closest</text>
<text transform="translate(537.10,35.50) scale(1.050,1)" x="-7.77" y="0" font-size="27.5">=</text>
<text transform="translate(566.35,34.30) scale(1.000,1)" x="-6.50" y="0" font-size="26">0</text>
<text transform="translate(578.15,34.30) scale(1.000,1)" x="-3.25" y="0" font-size="26">.</text>
<text transform="translate(590.40,34.30) scale(0.850,1)" x="-6.86" y="0" font-size="26">1</text>
<text transform="translate(616.40,34.30) scale(1.280,1)" x="-5.08" y="0" font-size="22.5">c</text>
<text transform="translate(453.10,188.30) scale(0.950,1)" x="-6.25" y="0" font-size="25">v</text>
<text transform="translate(461.40,194.50) scale(1.1200,1)" x="-0.59 7.26 12.53 21.25 28.26 36.10 43.11" y="0" font-size="15.5" stroke="#000" stroke-width="0.15">closest</text>
<text transform="translate(537.10,189.50) scale(1.050,1)" x="-7.77" y="0" font-size="27.5">=</text>
<text transform="translate(567.20,188.30) scale(0.850,1)" x="-6.86" y="0" font-size="26">1</text>
<text transform="translate(578.10,188.30) scale(1.000,1)" x="-3.25" y="0" font-size="26">.</text>
<text transform="translate(589.35,188.30) scale(1.000,1)" x="-6.50" y="0" font-size="26">0</text>
<text transform="translate(616.40,188.30) scale(1.280,1)" x="-5.08" y="0" font-size="22.5">c</text>
<text transform="translate(453.10,341.80) scale(0.950,1)" x="-6.25" y="0" font-size="25">v</text>
<text transform="translate(461.40,348.00) scale(1.1200,1)" x="-0.59 7.26 12.53 21.25 28.26 36.10 43.11" y="0" font-size="15.5" stroke="#000" stroke-width="0.15">closest</text>
<text transform="translate(537.10,343.00) scale(1.050,1)" x="-7.77" y="0" font-size="27.5">=</text>
<text transform="translate(566.35,341.80) scale(0.850,1)" x="-6.86" y="0" font-size="26">1</text>
<text transform="translate(580.35,341.80) scale(1.000,1)" x="-6.50" y="0" font-size="26">0</text>
<text transform="translate(593.20,341.80) scale(1.000,1)" x="-3.25" y="0" font-size="26">.</text>
<text transform="translate(604.95,341.80) scale(1.000,1)" x="-6.50" y="0" font-size="26">0</text>
<text transform="translate(631.80,341.80) scale(1.280,1)" x="-5.08" y="0" font-size="22.5">c</text>
</g>
</svg>
</body></html>
